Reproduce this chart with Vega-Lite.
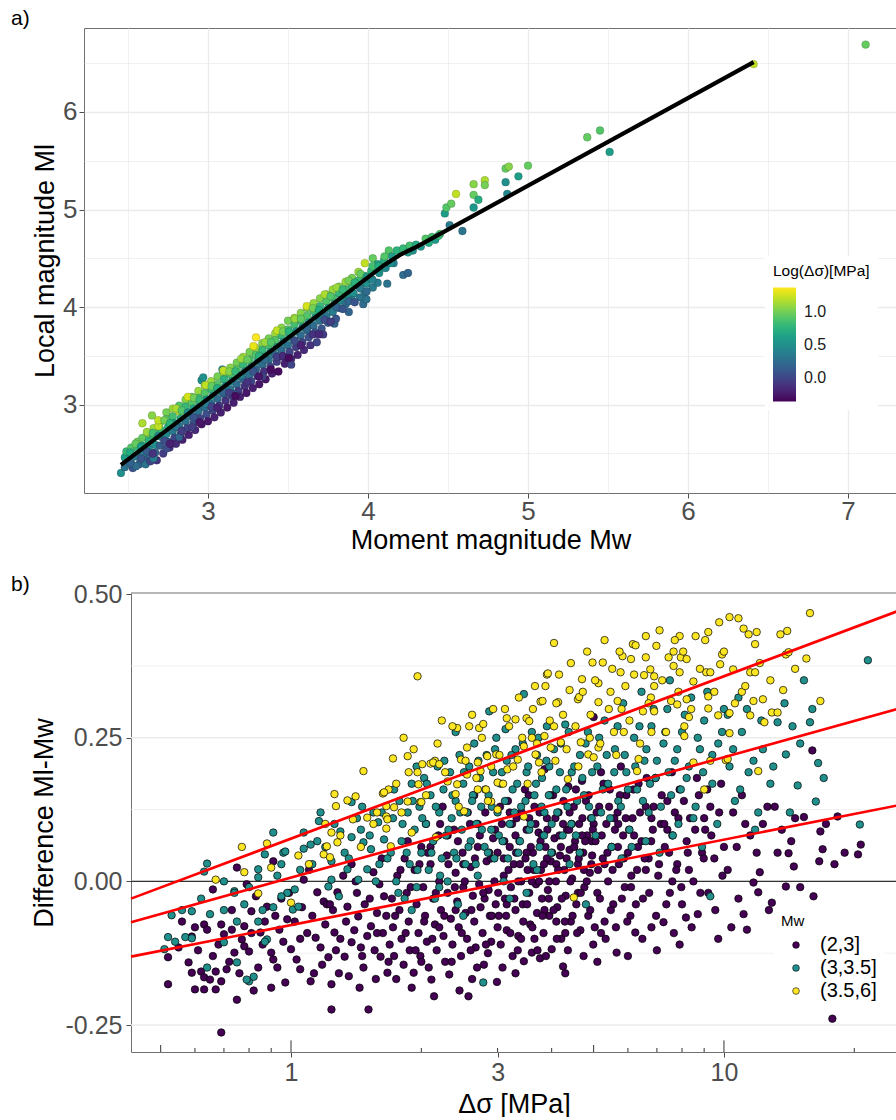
{
"$schema":"https://vega.github.io/schema/vega-lite/v6.json",
"padding":{"left":10,"top":7,"right":0,"bottom":0},
"background":"white",
"columns":1,
"spacing":20,
"config":{
 "font":"Liberation Sans",
 "view":{"stroke":"#707070","strokeWidth":1},
 "axis":{"labelColor":"#4D4D4D","titleColor":"#000000","tickColor":"#4D4D4D","domain":false,"labelFlush":false,"labelOverlap":false,"titleFontWeight":"normal","tickSize":5,"gridColor":"#EBEBEB"},
 "title":{"fontWeight":"normal","color":"#000000","fontSize":21}
},
"datasets":{
"a":[
{"mw":2.456,"ml":2.30,"c":0.5},
{"mw":2.48,"ml":2.46,"c":0.6},{"mw":2.48,"ml":2.36,"c":0.3},{"mw":2.49,"ml":2.52,"c":0.8},
{"mw":2.52,"ml":2.56,"c":0.9},{"mw":2.52,"ml":2.49,"c":0.6},{"mw":2.52,"ml":2.40,"c":0.3},{"mw":2.53,"ml":2.35,"c":0.1},
{"mw":2.56,"ml":2.62,"c":1.0},{"mw":2.56,"ml":2.55,"c":0.8},{"mw":2.56,"ml":2.47,"c":0.45},{"mw":2.57,"ml":2.39,"c":0.2},{"mw":2.55,"ml":2.37,"c":0.25},
{"mw":2.59,"ml":2.81,"c":1.15},{"mw":2.59,"ml":2.66,"c":0.95},{"mw":2.59,"ml":2.58,"c":0.7},{"mw":2.6,"ml":2.50,"c":0.4},{"mw":2.6,"ml":2.43,"c":0.15},{"mw":2.61,"ml":2.39,"c":0.3},
{"mw":2.63,"ml":2.70,"c":1.0},{"mw":2.63,"ml":2.63,"c":0.75},{"mw":2.63,"ml":2.55,"c":0.45},{"mw":2.64,"ml":2.47,"c":0.2},{"mw":2.64,"ml":2.42,"c":0.0},
{"mw":2.65,"ml":2.89,"c":1.05},{"mw":2.66,"ml":2.76,"c":1.1},{"mw":2.66,"ml":2.68,"c":0.8},{"mw":2.67,"ml":2.59,"c":0.5},{"mw":2.67,"ml":2.51,"c":0.2},{"mw":2.68,"ml":2.43,"c":-0.1},{"mw":2.66,"ml":2.45,"c":0.35},
{"mw":2.70,"ml":2.82,"c":0.95},{"mw":2.70,"ml":2.75,"c":0.8},{"mw":2.71,"ml":2.67,"c":0.55},{"mw":2.70,"ml":2.58,"c":0.15},{"mw":2.72,"ml":2.50,"c":-0.05},{"mw":2.69,"ml":2.78,"c":1.2},
{"mw":2.74,"ml":2.92,"c":1.0},{"mw":2.74,"ml":2.85,"c":0.9},{"mw":2.75,"ml":2.77,"c":0.7},{"mw":2.74,"ml":2.70,"c":0.45},{"mw":2.75,"ml":2.62,"c":0.1},{"mw":2.76,"ml":2.56,"c":-0.1},{"mw":2.74,"ml":2.55,"c":0.05},
{"mw":2.78,"ml":2.96,"c":1.1},{"mw":2.78,"ml":2.88,"c":0.85},{"mw":2.79,"ml":2.81,"c":0.6},{"mw":2.78,"ml":2.73,"c":0.35},{"mw":2.79,"ml":2.66,"c":0.0},{"mw":2.8,"ml":2.60,"c":-0.15},
{"mw":2.82,"ml":2.99,"c":0.9},{"mw":2.82,"ml":2.93,"c":1.15},{"mw":2.83,"ml":2.86,"c":0.7},{"mw":2.82,"ml":2.78,"c":0.3},{"mw":2.83,"ml":2.70,"c":0.05},{"mw":2.84,"ml":2.64,"c":-0.2},{"mw":2.82,"ml":2.67,"c":0.2},
{"mw":2.86,"ml":3.05,"c":1.05},{"mw":2.86,"ml":2.98,"c":0.8},{"mw":2.87,"ml":2.91,"c":0.6},{"mw":2.86,"ml":2.83,"c":0.3},{"mw":2.87,"ml":2.76,"c":0.0},{"mw":2.88,"ml":2.69,"c":-0.2},
{"mw":2.90,"ml":3.08,"c":1.0},{"mw":2.90,"ml":3.02,"c":0.9},{"mw":2.91,"ml":2.96,"c":0.65},{"mw":2.9,"ml":2.88,"c":0.35},{"mw":2.91,"ml":2.81,"c":0.1},{"mw":2.92,"ml":2.74,"c":-0.15},{"mw":2.9,"ml":2.77,"c":-0.05},
{"mw":2.94,"ml":3.14,"c":1.1},{"mw":2.94,"ml":3.07,"c":0.85},{"mw":2.95,"ml":3.0,"c":0.6},{"mw":2.94,"ml":2.93,"c":0.3},{"mw":2.95,"ml":2.86,"c":0.0},{"mw":2.96,"ml":2.80,"c":-0.25},{"mw":2.96,"ml":3.25,"c":0.5},
{"mw":2.98,"ml":3.2,"c":1.05},{"mw":2.98,"ml":3.12,"c":0.9},{"mw":2.99,"ml":3.05,"c":0.55},{"mw":2.98,"ml":2.97,"c":0.25},{"mw":2.99,"ml":2.9,"c":0.05},{"mw":3.0,"ml":2.83,"c":-0.25},{"mw":2.97,"ml":3.28,"c":0.5},
{"mw":3.02,"ml":3.24,"c":1.1},{"mw":3.02,"ml":3.16,"c":0.8},{"mw":3.03,"ml":3.09,"c":0.6},{"mw":3.02,"ml":3.01,"c":0.3},{"mw":3.03,"ml":2.94,"c":0.0},{"mw":3.04,"ml":2.87,"c":-0.2},{"mw":3.02,"ml":2.98,"c":0.1},
{"mw":3.06,"ml":3.29,"c":1.0},{"mw":3.06,"ml":3.21,"c":0.9},{"mw":3.07,"ml":3.14,"c":0.55},{"mw":3.06,"ml":3.06,"c":0.25},{"mw":3.07,"ml":2.99,"c":-0.05},{"mw":3.08,"ml":2.92,"c":-0.2},
{"mw":3.10,"ml":3.33,"c":1.1},{"mw":3.10,"ml":3.26,"c":0.75},{"mw":3.11,"ml":3.19,"c":0.5},{"mw":3.1,"ml":3.11,"c":0.2},{"mw":3.11,"ml":3.04,"c":-0.1},{"mw":3.12,"ml":2.97,"c":-0.25},{"mw":3.09,"ml":3.36,"c":0.45},
{"mw":3.14,"ml":3.38,"c":1.05},{"mw":3.14,"ml":3.31,"c":0.85},{"mw":3.15,"ml":3.24,"c":0.6},{"mw":3.14,"ml":3.16,"c":0.3},{"mw":3.15,"ml":3.09,"c":0.0},{"mw":3.16,"ml":3.02,"c":-0.2},
{"mw":3.18,"ml":3.43,"c":1.0},{"mw":3.18,"ml":3.36,"c":0.9},{"mw":3.19,"ml":3.29,"c":0.55},{"mw":3.18,"ml":3.21,"c":0.25},{"mw":3.19,"ml":3.14,"c":-0.05},{"mw":3.2,"ml":3.08,"c":-0.2},{"mw":3.17,"ml":3.11,"c":0.05},
{"mw":3.22,"ml":3.49,"c":1.1},{"mw":3.22,"ml":3.41,"c":0.8},{"mw":3.23,"ml":3.34,"c":0.5},{"mw":3.22,"ml":3.26,"c":0.2},{"mw":3.23,"ml":3.19,"c":-0.1},{"mw":3.24,"ml":3.12,"c":-0.25},
{"mw":3.26,"ml":3.54,"c":1.0},{"mw":3.26,"ml":3.46,"c":0.85},{"mw":3.27,"ml":3.39,"c":0.6},{"mw":3.26,"ml":3.31,"c":0.3},{"mw":3.27,"ml":3.24,"c":0.0},{"mw":3.28,"ml":3.17,"c":-0.2},
{"mw":3.30,"ml":3.69,"c":1.35},{"mw":3.30,"ml":3.58,"c":1.1},{"mw":3.30,"ml":3.51,"c":0.9},{"mw":3.31,"ml":3.44,"c":0.55},{"mw":3.3,"ml":3.36,"c":0.2},{"mw":3.31,"ml":3.29,"c":-0.05},{"mw":3.32,"ml":3.21,"c":-0.25},
{"mw":3.34,"ml":3.63,"c":1.05},{"mw":3.34,"ml":3.56,"c":0.8},{"mw":3.35,"ml":3.49,"c":0.5},{"mw":3.34,"ml":3.41,"c":0.25},{"mw":3.35,"ml":3.34,"c":-0.1},{"mw":3.36,"ml":3.26,"c":-0.25},{"mw":3.34,"ml":3.29,"c":0.0},
{"mw":3.38,"ml":3.68,"c":1.0},{"mw":3.38,"ml":3.61,"c":0.85},{"mw":3.39,"ml":3.54,"c":0.6},{"mw":3.38,"ml":3.46,"c":0.3},{"mw":3.39,"ml":3.39,"c":0.0},{"mw":3.4,"ml":3.32,"c":-0.2},
{"mw":3.42,"ml":3.73,"c":1.1},{"mw":3.42,"ml":3.66,"c":0.9},{"mw":3.43,"ml":3.59,"c":0.55},{"mw":3.42,"ml":3.51,"c":0.2},{"mw":3.43,"ml":3.44,"c":-0.05},{"mw":3.44,"ml":3.34,"c":-0.3},
{"mw":3.46,"ml":3.79,"c":1.05},{"mw":3.46,"ml":3.71,"c":0.8},{"mw":3.47,"ml":3.64,"c":0.5},{"mw":3.46,"ml":3.56,"c":0.25},{"mw":3.47,"ml":3.49,"c":-0.1},{"mw":3.48,"ml":3.42,"c":-0.2},
{"mw":3.50,"ml":3.86,"c":1.0},{"mw":3.50,"ml":3.77,"c":0.9},{"mw":3.51,"ml":3.69,"c":0.6},{"mw":3.5,"ml":3.61,"c":0.3},{"mw":3.51,"ml":3.54,"c":0.0},{"mw":3.52,"ml":3.47,"c":-0.15},{"mw":3.52,"ml":3.41,"c":0.0},
{"mw":3.54,"ml":3.89,"c":1.1},{"mw":3.54,"ml":3.82,"c":0.85},{"mw":3.55,"ml":3.75,"c":0.55},{"mw":3.54,"ml":3.66,"c":0.2},{"mw":3.55,"ml":3.59,"c":-0.05},{"mw":3.56,"ml":3.51,"c":-0.2},
{"mw":3.58,"ml":3.94,"c":1.05},{"mw":3.58,"ml":3.86,"c":0.8},{"mw":3.59,"ml":3.79,"c":0.5},{"mw":3.58,"ml":3.71,"c":0.25},{"mw":3.59,"ml":3.64,"c":0.0},{"mw":3.6,"ml":3.56,"c":-0.15},
{"mw":3.62,"ml":3.99,"c":1.0},{"mw":3.62,"ml":3.91,"c":0.9},{"mw":3.63,"ml":3.84,"c":0.6},{"mw":3.62,"ml":3.76,"c":0.3},{"mw":3.63,"ml":3.69,"c":0.05},{"mw":3.64,"ml":3.61,"c":-0.1},
{"mw":3.66,"ml":4.04,"c":1.1},{"mw":3.66,"ml":3.96,"c":0.85},{"mw":3.67,"ml":3.89,"c":0.55},{"mw":3.66,"ml":3.81,"c":0.25},{"mw":3.67,"ml":3.74,"c":0.1},{"mw":3.68,"ml":3.64,"c":0.0},
{"mw":3.70,"ml":4.09,"c":1.05},{"mw":3.70,"ml":4.01,"c":0.8},{"mw":3.71,"ml":3.94,"c":0.5},{"mw":3.7,"ml":3.86,"c":0.3},{"mw":3.71,"ml":3.78,"c":0.1},{"mw":3.72,"ml":3.72,"c":-0.05},
{"mw":3.74,"ml":4.13,"c":1.0},{"mw":3.74,"ml":4.06,"c":0.9},{"mw":3.75,"ml":3.99,"c":0.55},{"mw":3.74,"ml":3.91,"c":0.3},{"mw":3.75,"ml":3.84,"c":0.15},
{"mw":3.78,"ml":4.18,"c":1.1},{"mw":3.78,"ml":4.1,"c":0.85},{"mw":3.79,"ml":4.03,"c":0.6},{"mw":3.78,"ml":3.95,"c":0.35},{"mw":3.79,"ml":3.83,"c":0.2},{"mw":3.8,"ml":3.88,"c":0.1},
{"mw":3.82,"ml":4.21,"c":1.05},{"mw":3.82,"ml":4.14,"c":0.8},{"mw":3.83,"ml":4.07,"c":0.5},{"mw":3.82,"ml":3.99,"c":0.3},
{"mw":3.86,"ml":4.26,"c":1.1},{"mw":3.86,"ml":4.18,"c":0.85},{"mw":3.87,"ml":4.11,"c":0.55},{"mw":3.86,"ml":4.03,"c":0.3},{"mw":3.88,"ml":3.95,"c":0.2},
{"mw":3.90,"ml":4.3,"c":1.0},{"mw":3.9,"ml":4.22,"c":0.8},{"mw":3.91,"ml":4.14,"c":0.5},{"mw":3.9,"ml":4.07,"c":0.35},
{"mw":3.94,"ml":4.36,"c":1.1},{"mw":3.94,"ml":4.27,"c":0.8},{"mw":3.95,"ml":4.2,"c":0.55},{"mw":3.95,"ml":4.1,"c":0.3},{"mw":3.97,"ml":4.03,"c":0.25},
{"mw":3.98,"ml":4.45,"c":1.2},{"mw":3.98,"ml":4.32,"c":0.8},{"mw":3.99,"ml":4.24,"c":0.5},{"mw":3.98,"ml":4.15,"c":0.35},{"mw":3.99,"ml":4.08,"c":0.3},
{"mw":4.03,"ml":4.50,"c":0.95},{"mw":4.02,"ml":4.37,"c":0.75},{"mw":4.02,"ml":4.29,"c":0.5},{"mw":4.03,"ml":4.2,"c":0.35},
{"mw":4.06,"ml":4.44,"c":0.65},{"mw":4.07,"ml":4.35,"c":0.5},{"mw":4.06,"ml":4.25,"c":0.35},{"mw":4.08,"ml":4.40,"c":0.6},
{"mw":4.1,"ml":4.48,"c":0.7},{"mw":4.11,"ml":4.4,"c":0.45},{"mw":4.13,"ml":4.58,"c":0.9},{"mw":4.12,"ml":4.24,"c":0.3},
{"mw":4.15,"ml":4.52,"c":0.6},{"mw":4.16,"ml":4.45,"c":0.4},{"mw":4.22,"ml":4.33,"c":0.25},{"mw":4.25,"ml":4.35,"c":0.2},{"mw":4.18,"ml":4.58,"c":0.75},
{"mw":4.22,"ml":4.6,"c":0.8},{"mw":4.26,"ml":4.63,"c":0.85},{"mw":4.3,"ml":4.64,"c":0.7},{"mw":4.33,"ml":4.62,"c":0.55},{"mw":4.28,"ml":4.58,"c":0.5},{"mw":4.36,"ml":4.70,"c":0.9},{"mw":4.4,"ml":4.72,"c":0.85},{"mw":4.42,"ml":4.69,"c":0.6},{"mw":4.45,"ml":4.75,"c":0.9},{"mw":4.38,"ml":4.66,"c":0.7},{"mw":4.44,"ml":4.73,"c":0.8},{"mw":4.25,"ml":4.56,"c":0.6},
{"mw":4.48,"ml":4.96,"c":0.6},{"mw":4.49,"ml":5.02,"c":0.9},{"mw":4.52,"ml":5.06,"c":0.95},{"mw":4.51,"ml":4.84,"c":0.35},{"mw":4.59,"ml":4.78,"c":0.3},{"mw":4.55,"ml":5.16,"c":1.2},{"mw":4.66,"ml":5.26,"c":1.05},{"mw":4.66,"ml":5.15,"c":0.95},{"mw":4.66,"ml":5.02,"c":0.55},{"mw":4.69,"ml":5.10,"c":0.7},{"mw":4.73,"ml":5.30,"c":1.15},{"mw":4.73,"ml":5.25,"c":1.0},{"mw":4.86,"ml":5.42,"c":0.95},{"mw":4.88,"ml":5.44,"c":1.05},{"mw":4.86,"ml":5.28,"c":0.5},{"mw":4.87,"ml":5.16,"c":0.45},{"mw":4.94,"ml":5.34,"c":0.6},{"mw":5.0,"ml":5.45,"c":0.95},{"mw":5.37,"ml":5.74,"c":0.95},{"mw":5.45,"ml":5.81,"c":0.9},{"mw":5.51,"ml":5.59,"c":0.6},{"mw":6.41,"ml":6.49,"c":1.2},{"mw":7.11,"ml":6.69,"c":0.95},
{"mw":2.513,"ml":2.51,"c":0.7},{"mw":2.513,"ml":2.40,"c":0.2},{"mw":2.547,"ml":2.60,"c":0.95},{"mw":2.547,"ml":2.47,"c":0.35},{"mw":2.581,"ml":2.57,"c":0.6},{"mw":2.581,"ml":2.45,"c":0.1},{"mw":2.618,"ml":2.72,"c":1.1},{"mw":2.618,"ml":2.52,"c":0.15},{"mw":2.655,"ml":2.71,"c":0.85},{"mw":2.655,"ml":2.50,"c":-0.1},{"mw":2.689,"ml":2.84,"c":1.2},{"mw":2.689,"ml":2.68,"c":0.45},{"mw":2.727,"ml":2.84,"c":1.0},{"mw":2.727,"ml":2.63,"c":0.05},{"mw":2.763,"ml":2.81,"c":0.75},{"mw":2.763,"ml":2.60,"c":-0.2},{"mw":2.801,"ml":2.96,"c":1.15},{"mw":2.801,"ml":2.77,"c":0.3},{"mw":2.836,"ml":2.94,"c":0.9},{"mw":2.836,"ml":2.73,"c":-0.05},{"mw":2.874,"ml":3.08,"c":1.25},{"mw":2.874,"ml":2.92,"c":0.5},{"mw":2.912,"ml":3.07,"c":1.0},{"mw":2.912,"ml":2.87,"c":0.1},{"mw":2.947,"ml":3.05,"c":0.8},{"mw":2.947,"ml":2.82,"c":-0.25},{"mw":2.985,"ml":3.20,"c":1.2},{"mw":2.985,"ml":3.01,"c":0.35},{"mw":3.023,"ml":3.19,"c":0.95},{"mw":3.023,"ml":2.98,"c":0.0},{"mw":3.058,"ml":3.17,"c":0.7},{"mw":3.058,"ml":2.97,"c":-0.2},{"mw":3.096,"ml":3.35,"c":1.2},{"mw":3.096,"ml":3.13,"c":0.2},{"mw":3.133,"ml":3.34,"c":1.05},{"mw":3.133,"ml":3.12,"c":-0.05},{"mw":3.171,"ml":3.34,"c":0.8},{"mw":3.171,"ml":3.09,"c":-0.3},{"mw":3.207,"ml":3.47,"c":1.1},{"mw":3.207,"ml":3.30,"c":0.4},{"mw":3.246,"ml":3.46,"c":0.95},{"mw":3.246,"ml":3.23,"c":-0.1},{"mw":3.284,"ml":3.60,"c":1.3},{"mw":3.284,"ml":3.34,"c":0.1},{"mw":3.319,"ml":3.50,"c":0.75},{"mw":3.319,"ml":3.29,"c":-0.25},{"mw":3.357,"ml":3.64,"c":1.1},{"mw":3.357,"ml":3.46,"c":0.25},{"mw":3.393,"ml":3.64,"c":0.9},{"mw":3.393,"ml":3.36,"c":-0.3},{"mw":3.431,"ml":3.76,"c":1.2},{"mw":3.431,"ml":3.49,"c":-0.05},{"mw":3.468,"ml":3.75,"c":1.0},{"mw":3.468,"ml":3.50,"c":-0.15},{"mw":3.505,"ml":3.75,"c":0.75},{"mw":3.505,"ml":3.48,"c":-0.3},{"mw":3.543,"ml":3.88,"c":1.1},{"mw":3.543,"ml":3.65,"c":0.05},{"mw":3.581,"ml":3.88,"c":0.95},{"mw":3.581,"ml":3.61,"c":-0.2},{"mw":3.617,"ml":4.01,"c":1.25},{"mw":3.617,"ml":3.78,"c":0.2},{"mw":3.655,"ml":3.99,"c":1.0},{"mw":3.655,"ml":3.72,"c":-0.1},{"mw":3.693,"ml":3.97,"c":0.7},{"mw":3.693,"ml":3.72,"c":-0.15},{"mw":3.729,"ml":4.13,"c":1.15},{"mw":3.729,"ml":3.87,"c":0.05},{"mw":3.766,"ml":4.11,"c":0.9},{"mw":3.766,"ml":3.85,"c":-0.05},{"mw":3.804,"ml":4.20,"c":1.1},{"mw":3.804,"ml":4.0,"c":0.2},{"mw":3.842,"ml":4.18,"c":0.8},{"mw":3.842,"ml":3.98,"c":0.1},{"mw":3.879,"ml":4.27,"c":1.0},{"mw":3.879,"ml":4.06,"c":0.2},{"mw":3.917,"ml":4.25,"c":0.75},{"mw":3.917,"ml":4.05,"c":0.1},{"mw":3.953,"ml":4.34,"c":0.95},{"mw":3.953,"ml":4.19,"c":0.35},{"mw":3.991,"ml":4.31,"c":0.6},{"mw":3.991,"ml":4.16,"c":0.25},{"mw":4.028,"ml":4.42,"c":0.85},{"mw":4.028,"ml":4.28,"c":0.4},{"mw":4.066,"ml":4.42,"c":0.7},{"mw":4.103,"ml":4.52,"c":0.9},{"mw":4.141,"ml":4.45,"c":0.5}
],
"lineA":[{"mw":2.456,"ml":2.383},{"mw":4.1,"ml":4.43},{"mw":4.2,"ml":4.535},{"mw":4.3,"ml":4.615},{"mw":6.41,"ml":6.51}],
"b":[
{"s":0.52,"d":-0.179,"g":"(2,3]"},{"s":0.52,"d":-0.132,"g":"(2,3]"},{"s":0.56,"d":-0.07,"g":"(2,3]"},{"s":0.58,"d":-0.141,"g":"(2,3]"},{"s":0.59,"d":-0.159,"g":"(2,3]"},{"s":0.60,"d":-0.188,"g":"(2,3]"},{"s":0.59,"d":-0.096,"g":"(2,3]"},{"s":0.55,"d":-0.115,"g":"(2,3]"},
{"s":0.62,"d":-0.157,"g":"(2,3]"},{"s":0.63,"d":-0.167,"g":"(2,3]"},{"s":0.63,"d":-0.188,"g":"(2,3]"},{"s":0.65,"d":-0.171,"g":"(2,3]"},{"s":0.67,"d":-0.188,"g":"(2,3]"},{"s":0.67,"d":-0.157,"g":"(2,3]"},{"s":0.69,"d":-0.174,"g":"(2,3]"},{"s":0.71,"d":-0.153,"g":"(2,3]"},{"s":0.69,"d":-0.263,"g":"(2,3]"},{"s":0.63,"d":-0.075,"g":"(2,3]"},{"s":0.64,"d":-0.084,"g":"(2,3]"},{"s":0.66,"d":-0.014,"g":"(2,3]"},{"s":0.69,"d":-0.075,"g":"(2,3]"},{"s":0.70,"d":-0.092,"g":"(2,3]"},{"s":0.61,"d":-0.12,"g":"(2,3]"},{"s":0.68,"d":-0.11,"g":"(2,3]"},
{"s":0.73,"d":-0.084,"g":"(2,3]"},{"s":0.74,"d":-0.124,"g":"(2,3]"},{"s":0.75,"d":-0.206,"g":"(2,3]"},{"s":0.75,"d":0.024,"g":"(2,3]"},{"s":0.77,"d":-0.101,"g":"(2,3]"},{"s":0.78,"d":-0.078,"g":"(2,3]"},{"s":0.78,"d":-0.113,"g":"(2,3]"},{"s":0.79,"d":-0.005,"g":"(2,3]"},{"s":0.80,"d":-0.122,"g":"(2,3]"},{"s":0.81,"d":-0.052,"g":"(2,3]"},{"s":0.83,"d":-0.026,"g":"(2,3]"},{"s":0.85,"d":-0.089,"g":"(2,3]"},{"s":0.88,"d":-0.044,"g":"(2,3]"},{"s":0.90,"d":-0.124,"g":"(2,3]"},{"s":0.91,"d":0.035,"g":"(2,3]"},{"s":0.90,"d":-0.185,"g":"(2,3]"},{"s":0.91,"d":-0.136,"g":"(2,3]"},{"s":0.93,"d":-0.150,"g":"(2,3]"},{"s":0.94,"d":-0.084,"g":"(2,3]"},{"s":0.97,"d":-0.176,"g":"(2,3]"},{"s":0.98,"d":-0.066,"g":"(2,3]"},{"s":0.72,"d":-0.14,"g":"(2,3]"},{"s":0.76,"d":-0.16,"g":"(2,3]"},{"s":0.84,"d":-0.15,"g":"(2,3]"},{"s":0.86,"d":-0.11,"g":"(2,3]"},{"s":0.95,"d":-0.03,"g":"(2,3]"},{"s":0.96,"d":-0.105,"g":"(2,3]"},{"s":0.82,"d":-0.19,"g":"(2,3]"},{"s":0.87,"d":-0.07,"g":"(2,3]"},{"s":0.99,"d":-0.02,"g":"(2,3]"},
{"s":1.0,"d":-0.118,"g":"(2,3]"},{"s":1.03,"d":-0.136,"g":"(2,3]"},{"s":1.05,"d":-0.153,"g":"(2,3]"},{"s":1.07,"d":0.003,"g":"(2,3]"},{"s":1.11,"d":-0.174,"g":"(2,3]"},{"s":1.14,"d":-0.098,"g":"(2,3]"},{"s":1.15,"d":-0.019,"g":"(2,3]"},{"s":1.22,"d":-0.132,"g":"(2,3]"},{"s":1.24,"d":-0.179,"g":"(2,3]"},{"s":1.24,"d":-0.223,"g":"(2,3]"},{"s":1.26,"d":-0.089,"g":"(2,3]"},{"s":1.28,"d":-0.019,"g":"(2,3]"},{"s":1.33,"d":-0.131,"g":"(2,3]"},{"s":1.35,"d":-0.044,"g":"(2,3]"},{"s":1.38,"d":-0.106,"g":"(2,3]"},{"s":1.43,"d":-0.061,"g":"(2,3]"},{"s":1.47,"d":-0.150,"g":"(2,3]"},{"s":1.51,"d":-0.223,"g":"(2,3]"},{"s":1.53,"d":-0.078,"g":"(2,3]"},{"s":1.55,"d":0.016,"g":"(2,3]"},{"s":1.61,"d":-0.131,"g":"(2,3]"},{"s":1.67,"d":-0.159,"g":"(2,3]"},{"s":1.64,"d":-0.026,"g":"(2,3]"},{"s":1.02,"d":-0.07,"g":"(2,3]"},{"s":1.06,"d":-0.045,"g":"(2,3]"},{"s":1.09,"d":-0.09,"g":"(2,3]"},{"s":1.12,"d":-0.06,"g":"(2,3]"},{"s":1.17,"d":-0.115,"g":"(2,3]"},{"s":1.19,"d":-0.035,"g":"(2,3]"},{"s":1.2,"d":-0.075,"g":"(2,3]"},{"s":1.25,"d":-0.05,"g":"(2,3]"},{"s":1.3,"d":-0.1,"g":"(2,3]"},{"s":1.32,"d":0.01,"g":"(2,3]"},{"s":1.36,"d":-0.165,"g":"(2,3]"},{"s":1.4,"d":-0.085,"g":"(2,3]"},{"s":1.42,"d":-0.02,"g":"(2,3]"},{"s":1.45,"d":-0.115,"g":"(2,3]"},{"s":1.48,"d":-0.04,"g":"(2,3]"},{"s":1.5,"d":-0.095,"g":"(2,3]"},{"s":1.56,"d":-0.12,"g":"(2,3]"},{"s":1.58,"d":-0.055,"g":"(2,3]"},{"s":1.6,"d":-0.005,"g":"(2,3]"},{"s":1.63,"d":-0.09,"g":"(2,3]"},{"s":1.66,"d":-0.06,"g":"(2,3]"},{"s":1.69,"d":-0.11,"g":"(2,3]"},{"s":1.18,"d":-0.145,"g":"(2,3]"},{"s":1.29,"d":-0.16,"g":"(2,3]"},{"s":1.44,"d":-0.185,"g":"(2,3]"},{"s":1.57,"d":-0.17,"g":"(2,3]"},{"s":1.1,"d":0.02,"g":"(2,3]"},{"s":1.38,"d":0.03,"g":"(2,3]"},
{"s":1.71,"d":-0.03,"g":"(2,3]"},{"s":1.72,"d":-0.08,"g":"(2,3]"},{"s":1.73,"d":-0.13,"g":"(2,3]"},{"s":1.75,"d":-0.17,"g":"(2,3]"},{"s":1.76,"d":0.01,"g":"(2,3]"},{"s":1.78,"d":-0.05,"g":"(2,3]"},{"s":1.8,"d":-0.1,"g":"(2,3]"},{"s":1.82,"d":-0.145,"g":"(2,3]"},{"s":1.83,"d":0.04,"g":"(2,3]"},{"s":1.85,"d":-0.02,"g":"(2,3]"},{"s":1.87,"d":-0.07,"g":"(2,3]"},{"s":1.88,"d":-0.12,"g":"(2,3]"},{"s":1.9,"d":-0.185,"g":"(2,3]"},{"s":1.92,"d":-0.159,"g":"(2,3]"},{"s":1.93,"d":0.02,"g":"(2,3]"},{"s":1.95,"d":-0.04,"g":"(2,3]"},{"s":1.97,"d":-0.09,"g":"(2,3]"},{"s":1.99,"d":-0.13,"g":"(2,3]"},{"s":2.0,"d":0.06,"g":"(2,3]"},{"s":2.02,"d":-0.01,"g":"(2,3]"},{"s":2.04,"d":-0.06,"g":"(2,3]"},{"s":2.06,"d":-0.105,"g":"(2,3]"},{"s":2.08,"d":-0.15,"g":"(2,3]"},{"s":2.11,"d":-0.171,"g":"(2,3]"},{"s":2.1,"d":0.03,"g":"(2,3]"},{"s":2.13,"d":-0.03,"g":"(2,3]"},{"s":2.15,"d":-0.075,"g":"(2,3]"},{"s":2.17,"d":-0.12,"g":"(2,3]"},{"s":2.19,"d":0.08,"g":"(2,3]"},{"s":2.2,"d":0.0,"g":"(2,3]"},{"s":2.22,"d":-0.05,"g":"(2,3]"},{"s":2.25,"d":-0.095,"g":"(2,3]"},{"s":2.27,"d":-0.14,"g":"(2,3]"},{"s":2.29,"d":0.045,"g":"(2,3]"},{"s":2.32,"d":-0.162,"g":"(2,3]"},{"s":2.3,"d":-0.02,"g":"(2,3]"},{"s":2.34,"d":-0.065,"g":"(2,3]"},{"s":2.36,"d":-0.11,"g":"(2,3]"},{"s":2.38,"d":0.09,"g":"(2,3]"},{"s":2.4,"d":0.015,"g":"(2,3]"},{"s":2.42,"d":-0.035,"g":"(2,3]"},{"s":2.44,"d":-0.08,"g":"(2,3]"},{"s":2.47,"d":-0.13,"g":"(2,3]"},{"s":2.49,"d":0.05,"g":"(2,3]"},{"s":2.5,"d":-0.01,"g":"(2,3]"},{"s":2.53,"d":-0.055,"g":"(2,3]"},{"s":2.55,"d":-0.1,"g":"(2,3]"},{"s":2.57,"d":-0.2,"g":"(2,3]"},{"s":2.59,"d":0.1,"g":"(2,3]"},{"s":2.6,"d":0.025,"g":"(2,3]"},{"s":2.63,"d":-0.025,"g":"(2,3]"},{"s":2.65,"d":-0.07,"g":"(2,3]"},{"s":2.67,"d":-0.115,"g":"(2,3]"},{"s":2.7,"d":0.06,"g":"(2,3]"},{"s":2.72,"d":-0.005,"g":"(2,3]"},{"s":2.74,"d":-0.045,"g":"(2,3]"},{"s":2.77,"d":-0.09,"g":"(2,3]"},{"s":2.79,"d":-0.145,"g":"(2,3]"},{"s":2.81,"d":0.12,"g":"(2,3]"},{"s":2.83,"d":0.035,"g":"(2,3]"},{"s":2.86,"d":-0.015,"g":"(2,3]"},{"s":2.88,"d":-0.06,"g":"(2,3]"},{"s":2.9,"d":-0.105,"g":"(2,3]"},{"s":2.93,"d":0.075,"g":"(2,3]"},{"s":2.95,"d":0.0,"g":"(2,3]"},{"s":2.97,"d":-0.04,"g":"(2,3]"},{"s":2.99,"d":-0.175,"g":"(2,3]"},{"s":1.86,"d":0.07,"g":"(2,3]"},{"s":2.05,"d":0.1,"g":"(2,3]"},{"s":2.24,"d":0.13,"g":"(2,3]"},{"s":2.45,"d":-0.19,"g":"(2,3]"},{"s":2.65,"d":0.15,"g":"(2,3]"},{"s":2.85,"d":-0.125,"g":"(2,3]"},
{"s":3.0,"d":0.05,"g":"(2,3]"},{"s":3.02,"d":-0.06,"g":"(2,3]"},{"s":3.05,"d":-0.11,"g":"(2,3]"},{"s":3.07,"d":0.1,"g":"(2,3]"},{"s":3.1,"d":0.01,"g":"(2,3]"},{"s":3.12,"d":-0.03,"g":"(2,3]"},{"s":3.15,"d":-0.085,"g":"(2,3]"},{"s":3.17,"d":0.14,"g":"(2,3]"},{"s":3.2,"d":0.06,"g":"(2,3]"},{"s":3.22,"d":-0.01,"g":"(2,3]"},{"s":3.25,"d":-0.13,"g":"(2,3]"},{"s":3.27,"d":0.03,"g":"(2,3]"},{"s":3.3,"d":-0.05,"g":"(2,3]"},{"s":3.32,"d":0.11,"g":"(2,3]"},{"s":3.35,"d":-0.095,"g":"(2,3]"},{"s":3.37,"d":0.07,"g":"(2,3]"},{"s":3.4,"d":0.0,"g":"(2,3]"},{"s":3.43,"d":-0.04,"g":"(2,3]"},{"s":3.45,"d":-0.139,"g":"(2,3]"},{"s":3.47,"d":0.16,"g":"(2,3]"},{"s":3.5,"d":0.09,"g":"(2,3]"},{"s":3.52,"d":0.02,"g":"(2,3]"},{"s":3.55,"d":-0.02,"g":"(2,3]"},{"s":3.57,"d":-0.075,"g":"(2,3]"},{"s":3.6,"d":-0.124,"g":"(2,3]"},{"s":3.62,"d":0.05,"g":"(2,3]"},{"s":3.65,"d":0.13,"g":"(2,3]"},{"s":3.68,"d":-0.005,"g":"(2,3]"},{"s":3.7,"d":-0.055,"g":"(2,3]"},{"s":3.73,"d":0.085,"g":"(2,3]"},{"s":3.76,"d":-0.134,"g":"(2,3]"},{"s":3.78,"d":0.02,"g":"(2,3]"},{"s":3.8,"d":-0.03,"g":"(2,3]"},{"s":3.83,"d":-0.09,"g":"(2,3]"},{"s":3.85,"d":0.195,"g":"(2,3]"},{"s":3.87,"d":0.06,"g":"(2,3]"},{"s":3.9,"d":0.11,"g":"(2,3]"},{"s":3.92,"d":-0.015,"g":"(2,3]"},{"s":3.95,"d":-0.06,"g":"(2,3]"},{"s":3.98,"d":0.035,"g":"(2,3]"},{"s":4.0,"d":-0.118,"g":"(2,3]"},{"s":4.03,"d":0.15,"g":"(2,3]"},{"s":4.06,"d":0.075,"g":"(2,3]"},{"s":4.09,"d":0.0,"g":"(2,3]"},{"s":4.12,"d":-0.045,"g":"(2,3]"},{"s":4.15,"d":0.12,"g":"(2,3]"},{"s":4.18,"d":0.045,"g":"(2,3]"},{"s":4.21,"d":-0.1,"g":"(2,3]"},{"s":4.25,"d":-0.148,"g":"(2,3]"},{"s":4.28,"d":0.02,"g":"(2,3]"},{"s":4.31,"d":-0.025,"g":"(2,3]"},{"s":4.34,"d":0.09,"g":"(2,3]"},{"s":4.37,"d":0.165,"g":"(2,3]"},{"s":4.4,"d":0.055,"g":"(2,3]"},{"s":4.43,"d":-0.07,"g":"(2,3]"},{"s":4.46,"d":0.005,"g":"(2,3]"},{"s":4.5,"d":0.13,"g":"(2,3]"},{"s":4.53,"d":0.07,"g":"(2,3]"},{"s":4.56,"d":-0.04,"g":"(2,3]"},{"s":4.6,"d":0.03,"g":"(2,3]"},{"s":4.63,"d":0.1,"g":"(2,3]"},{"s":4.66,"d":-0.085,"g":"(2,3]"},{"s":4.7,"d":0.175,"g":"(2,3]"},{"s":4.73,"d":0.05,"g":"(2,3]"},{"s":4.76,"d":-0.01,"g":"(2,3]"},{"s":4.8,"d":0.14,"g":"(2,3]"},{"s":4.83,"d":0.08,"g":"(2,3]"},{"s":4.86,"d":-0.06,"g":"(2,3]"},{"s":4.9,"d":0.015,"g":"(2,3]"},{"s":4.93,"d":0.11,"g":"(2,3]"},{"s":4.96,"d":0.045,"g":"(2,3]"},{"s":4.99,"d":-0.11,"g":"(2,3]"},{"s":3.1,"d":0.04,"g":"(2,3]"},{"s":3.3,"d":0.08,"g":"(2,3]"},{"s":3.6,"d":0.0,"g":"(2,3]"},{"s":3.9,"d":0.04,"g":"(2,3]"},{"s":4.2,"d":0.06,"g":"(2,3]"},{"s":4.45,"d":0.1,"g":"(2,3]"},{"s":4.75,"d":0.02,"g":"(2,3]"},{"s":3.4,"d":-0.1,"g":"(2,3]"},{"s":3.75,"d":0.12,"g":"(2,3]"},{"s":4.1,"d":-0.07,"g":"(2,3]"},
{"s":2.1,"d":0.06,"g":"(2,3]"},{"s":2.3,"d":0.08,"g":"(2,3]"},{"s":2.5,"d":0.03,"g":"(2,3]"},{"s":2.7,"d":0.1,"g":"(2,3]"},{"s":2.9,"d":0.04,"g":"(2,3]"},{"s":3.2,"d":0.12,"g":"(2,3]"},{"s":3.5,"d":0.05,"g":"(2,3]"},{"s":3.8,"d":0.08,"g":"(2,3]"},{"s":4.1,"d":0.03,"g":"(2,3]"},{"s":4.4,"d":0.12,"g":"(2,3]"},{"s":4.7,"d":0.08,"g":"(2,3]"},{"s":5.0,"d":0.1,"g":"(2,3]"},{"s":2.2,"d":-0.08,"g":"(2,3]"},{"s":2.6,"d":-0.12,"g":"(2,3]"},{"s":3.0,"d":-0.08,"g":"(2,3]"},{"s":3.35,"d":0.0,"g":"(2,3]"},{"s":3.65,"d":-0.1,"g":"(2,3]"},{"s":3.95,"d":0.0,"g":"(2,3]"},{"s":4.3,"d":-0.09,"g":"(2,3]"},{"s":4.6,"d":-0.02,"g":"(2,3]"},{"s":2.0,"d":-0.14,"g":"(2,3]"},{"s":2.4,"d":-0.05,"g":"(2,3]"},{"s":2.8,"d":-0.03,"g":"(2,3]"},{"s":3.15,"d":-0.04,"g":"(2,3]"},{"s":3.55,"d":0.11,"g":"(2,3]"},{"s":3.85,"d":-0.05,"g":"(2,3]"},{"s":4.25,"d":0.1,"g":"(2,3]"},{"s":4.65,"d":0.05,"g":"(2,3]"},{"s":4.95,"d":0.07,"g":"(2,3]"},{"s":5.3,"d":0.03,"g":"(2,3]"},{"s":5.7,"d":0.1,"g":"(2,3]"},{"s":6.2,"d":0.08,"g":"(2,3]"},{"s":6.8,"d":0.11,"g":"(2,3]"},{"s":7.4,"d":0.09,"g":"(2,3]"},
{"s":5.0,"d":0.286,"g":"(2,3]"},{"s":5.05,"d":0.07,"g":"(2,3]"},{"s":5.1,"d":-0.02,"g":"(2,3]"},{"s":5.15,"d":0.13,"g":"(2,3]"},{"s":5.2,"d":0.19,"g":"(2,3]"},{"s":5.25,"d":0.04,"g":"(2,3]"},{"s":5.3,"d":-0.07,"g":"(2,3]"},{"s":5.35,"d":0.1,"g":"(2,3]"},{"s":5.4,"d":0.0,"g":"(2,3]"},{"s":5.45,"d":0.16,"g":"(2,3]"},{"s":5.5,"d":0.06,"g":"(2,3]"},{"s":5.55,"d":-0.04,"g":"(2,3]"},{"s":5.65,"d":-0.124,"g":"(2,3]"},{"s":5.68,"d":0.12,"g":"(2,3]"},{"s":5.72,"d":0.03,"g":"(2,3]"},{"s":5.78,"d":0.2,"g":"(2,3]"},{"s":5.85,"d":0.08,"g":"(2,3]"},{"s":5.9,"d":-0.01,"g":"(2,3]"},{"s":5.95,"d":0.15,"g":"(2,3]"},{"s":6.0,"d":0.05,"g":"(2,3]"},{"s":6.08,"d":-0.06,"g":"(2,3]"},{"s":6.15,"d":0.11,"g":"(2,3]"},{"s":6.24,"d":-0.089,"g":"(2,3]"},{"s":6.3,"d":0.02,"g":"(2,3]"},{"s":6.35,"d":0.17,"g":"(2,3]"},{"s":6.45,"d":0.07,"g":"(2,3]"},{"s":6.5,"d":-0.03,"g":"(2,3]"},{"s":6.6,"d":0.13,"g":"(2,3]"},{"s":6.7,"d":0.04,"g":"(2,3]"},{"s":6.8,"d":-0.08,"g":"(2,3]"},{"s":6.85,"d":0.09,"g":"(2,3]"},{"s":6.95,"d":0.18,"g":"(2,3]"},{"s":7.05,"d":0.01,"g":"(2,3]"},{"s":7.15,"d":0.1,"g":"(2,3]"},{"s":7.25,"d":-0.071,"g":"(2,3]"},{"s":7.3,"d":0.06,"g":"(2,3]"},{"s":7.4,"d":0.14,"g":"(2,3]"},{"s":7.5,"d":-0.02,"g":"(2,3]"},{"s":7.6,"d":0.08,"g":"(2,3]"},{"s":7.7,"d":0.12,"g":"(2,3]"},{"s":7.8,"d":0.03,"g":"(2,3]"},{"s":7.9,"d":0.16,"g":"(2,3]"},{"s":8.0,"d":-0.04,"g":"(2,3]"},{"s":8.17,"d":-0.063,"g":"(2,3]"},{"s":8.2,"d":0.07,"g":"(2,3]"},{"s":8.35,"d":0.11,"g":"(2,3]"},{"s":8.5,"d":0.0,"g":"(2,3]"},{"s":8.7,"d":-0.057,"g":"(2,3]"},{"s":8.75,"d":0.15,"g":"(2,3]"},{"s":8.9,"d":0.05,"g":"(2,3]"},{"s":9.05,"d":0.09,"g":"(2,3]"},{"s":9.2,"d":-0.02,"g":"(2,3]"},{"s":9.3,"d":0.13,"g":"(2,3]"},{"s":9.5,"d":0.04,"g":"(2,3]"},{"s":9.7,"d":-0.1,"g":"(2,3]"},{"s":9.85,"d":0.17,"g":"(2,3]"},{"s":10.0,"d":0.06,"g":"(2,3]"},{"s":5.2,"d":-0.09,"g":"(2,3]"},{"s":5.6,"d":0.09,"g":"(2,3]"},{"s":6.1,"d":-0.01,"g":"(2,3]"},{"s":6.6,"d":0.02,"g":"(2,3]"},{"s":7.0,"d":-0.12,"g":"(2,3]"},{"s":7.6,"d":0.0,"g":"(2,3]"},{"s":8.3,"d":0.02,"g":"(2,3]"},{"s":9.0,"d":0.11,"g":"(2,3]"},
{"s":10.2,"d":0.02,"g":"(2,3]"},{"s":10.5,"d":0.12,"g":"(2,3]"},{"s":10.8,"d":-0.03,"g":"(2,3]"},{"s":11.1,"d":-0.057,"g":"(2,3]"},{"s":11.3,"d":-0.084,"g":"(2,3]"},{"s":11.5,"d":0.08,"g":"(2,3]"},{"s":11.7,"d":-0.002,"g":"(2,3]"},{"s":12.0,"d":-0.019,"g":"(2,3]"},{"s":12.1,"d":0.016,"g":"(2,3]"},{"s":12.3,"d":0.1,"g":"(2,3]"},{"s":12.9,"d":-0.037,"g":"(2,3]"},{"s":13.3,"d":0.05,"g":"(2,3]"},{"s":13.9,"d":-0.009,"g":"(2,3]"},{"s":14.1,"d":0.049,"g":"(2,3]"},{"s":14.5,"d":0.026,"g":"(2,3]"},{"s":14.6,"d":0.11,"g":"(2,3]"},{"s":15.3,"d":0.112,"g":"(2,3]"},{"s":16.0,"d":0.228,"g":"(2,3]"},{"s":16.1,"d":-0.026,"g":"(2,3]"},{"s":16.6,"d":0.035,"g":"(2,3]"},{"s":16.7,"d":0.087,"g":"(2,3]"},{"s":16.9,"d":0.056,"g":"(2,3]"},{"s":17.8,"d":-0.239,"g":"(2,3]"},{"s":18.0,"d":0.03,"g":"(2,3]"},{"s":18.3,"d":0.113,"g":"(2,3]"},{"s":20.4,"d":0.047,"g":"(2,3]"},{"s":20.7,"d":0.064,"g":"(2,3]"},{"s":11.0,"d":0.15,"g":"(2,3]"},{"s":12.6,"d":0.13,"g":"(2,3]"},{"s":13.6,"d":0.09,"g":"(2,3]"},
{"s":1.21,"d":-0.04,"g":"(2,3]"},{"s":1.27,"d":-0.12,"g":"(2,3]"},{"s":1.34,"d":-0.07,"g":"(2,3]"},{"s":1.41,"d":0.0,"g":"(2,3]"},{"s":1.46,"d":-0.13,"g":"(2,3]"},{"s":1.52,"d":-0.03,"g":"(2,3]"},{"s":1.58,"d":-0.09,"g":"(2,3]"},{"s":1.62,"d":0.04,"g":"(2,3]"},{"s":1.68,"d":-0.14,"g":"(2,3]"},{"s":1.74,"d":-0.06,"g":"(2,3]"},{"s":1.79,"d":0.02,"g":"(2,3]"},{"s":1.84,"d":-0.09,"g":"(2,3]"},{"s":1.89,"d":-0.01,"g":"(2,3]"},{"s":1.94,"d":-0.12,"g":"(2,3]"},{"s":1.98,"d":0.03,"g":"(2,3]"},{"s":2.03,"d":-0.07,"g":"(2,3]"},{"s":2.07,"d":0.05,"g":"(2,3]"},{"s":2.12,"d":-0.1,"g":"(2,3]"},{"s":2.16,"d":-0.02,"g":"(2,3]"},{"s":2.21,"d":0.1,"g":"(2,3]"},{"s":2.26,"d":-0.06,"g":"(2,3]"},{"s":2.31,"d":0.03,"g":"(2,3]"},{"s":2.35,"d":-0.14,"g":"(2,3]"},{"s":2.39,"d":-0.01,"g":"(2,3]"},{"s":2.43,"d":0.07,"g":"(2,3]"},{"s":2.48,"d":-0.09,"g":"(2,3]"},{"s":2.52,"d":0.0,"g":"(2,3]"},{"s":2.56,"d":0.12,"g":"(2,3]"},{"s":2.61,"d":-0.05,"g":"(2,3]"},{"s":2.66,"d":0.04,"g":"(2,3]"},{"s":2.69,"d":-0.15,"g":"(2,3]"},{"s":2.73,"d":0.08,"g":"(2,3]"},{"s":2.78,"d":-0.02,"g":"(2,3]"},{"s":2.82,"d":-0.11,"g":"(2,3]"},{"s":2.87,"d":0.05,"g":"(2,3]"},{"s":2.91,"d":-0.06,"g":"(2,3]"},{"s":2.96,"d":0.09,"g":"(2,3]"},{"s":3.01,"d":-0.02,"g":"(2,3]"},{"s":3.04,"d":0.13,"g":"(2,3]"},{"s":3.08,"d":-0.15,"g":"(2,3]"},{"s":3.11,"d":0.07,"g":"(2,3]"},{"s":3.14,"d":-0.06,"g":"(2,3]"},{"s":3.18,"d":0.02,"g":"(2,3]"},{"s":3.21,"d":-0.09,"g":"(2,3]"},{"s":3.24,"d":0.1,"g":"(2,3]"},{"s":3.28,"d":-0.03,"g":"(2,3]"},{"s":3.31,"d":0.05,"g":"(2,3]"},{"s":3.34,"d":-0.12,"g":"(2,3]"},{"s":3.38,"d":0.03,"g":"(2,3]"},{"s":3.41,"d":0.12,"g":"(2,3]"},{"s":3.44,"d":-0.07,"g":"(2,3]"},{"s":3.48,"d":0.04,"g":"(2,3]"},{"s":3.51,"d":-0.04,"g":"(2,3]"},{"s":3.54,"d":0.15,"g":"(2,3]"},{"s":3.58,"d":0.06,"g":"(2,3]"},{"s":3.61,"d":-0.08,"g":"(2,3]"},{"s":3.64,"d":0.02,"g":"(2,3]"},{"s":3.67,"d":0.1,"g":"(2,3]"},{"s":3.71,"d":-0.12,"g":"(2,3]"},{"s":3.74,"d":0.0,"g":"(2,3]"},{"s":3.77,"d":0.07,"g":"(2,3]"},{"s":3.81,"d":-0.06,"g":"(2,3]"},{"s":3.84,"d":0.03,"g":"(2,3]"},{"s":3.88,"d":-0.13,"g":"(2,3]"},{"s":3.91,"d":0.09,"g":"(2,3]"},{"s":3.94,"d":-0.03,"g":"(2,3]"},{"s":3.97,"d":0.15,"g":"(2,3]"},{"s":4.01,"d":0.05,"g":"(2,3]"},{"s":4.04,"d":-0.05,"g":"(2,3]"},{"s":4.08,"d":0.11,"g":"(2,3]"},{"s":4.11,"d":-0.1,"g":"(2,3]"},{"s":4.14,"d":0.02,"g":"(2,3]"},{"s":4.17,"d":0.08,"g":"(2,3]"},{"s":4.22,"d":-0.03,"g":"(2,3]"},{"s":4.26,"d":0.14,"g":"(2,3]"},{"s":4.29,"d":-0.07,"g":"(2,3]"},{"s":4.33,"d":0.04,"g":"(2,3]"},{"s":4.36,"d":-0.12,"g":"(2,3]"},{"s":4.39,"d":0.09,"g":"(2,3]"},{"s":4.42,"d":0.0,"g":"(2,3]"},{"s":4.47,"d":-0.06,"g":"(2,3]"},{"s":4.51,"d":0.06,"g":"(2,3]"},{"s":4.55,"d":0.16,"g":"(2,3]"},{"s":4.58,"d":-0.09,"g":"(2,3]"},{"s":4.62,"d":0.04,"g":"(2,3]"},{"s":4.67,"d":-0.02,"g":"(2,3]"},{"s":4.71,"d":0.11,"g":"(2,3]"},{"s":4.74,"d":-0.13,"g":"(2,3]"},{"s":4.78,"d":0.07,"g":"(2,3]"},{"s":4.82,"d":0.0,"g":"(2,3]"},{"s":4.87,"d":0.15,"g":"(2,3]"},{"s":4.91,"d":-0.05,"g":"(2,3]"},{"s":4.94,"d":0.03,"g":"(2,3]"},{"s":4.98,"d":0.09,"g":"(2,3]"},{"s":5.03,"d":-0.08,"g":"(2,3]"},{"s":5.08,"d":0.12,"g":"(2,3]"},{"s":5.12,"d":0.02,"g":"(2,3]"},{"s":5.17,"d":-0.03,"g":"(2,3]"},{"s":5.22,"d":0.08,"g":"(2,3]"},{"s":5.27,"d":0.17,"g":"(2,3]"},{"s":5.33,"d":-0.1,"g":"(2,3]"},{"s":5.38,"d":0.05,"g":"(2,3]"},{"s":5.43,"d":0.13,"g":"(2,3]"},{"s":5.48,"d":-0.05,"g":"(2,3]"},{"s":5.53,"d":0.02,"g":"(2,3]"},{"s":5.58,"d":0.11,"g":"(2,3]"},{"s":5.63,"d":-0.08,"g":"(2,3]"},{"s":5.69,"d":0.06,"g":"(2,3]"},{"s":5.75,"d":0.15,"g":"(2,3]"},{"s":5.81,"d":-0.03,"g":"(2,3]"},{"s":5.87,"d":0.04,"g":"(2,3]"},{"s":5.93,"d":0.11,"g":"(2,3]"},{"s":5.98,"d":-0.07,"g":"(2,3]"},{"s":6.04,"d":0.09,"g":"(2,3]"},{"s":6.11,"d":0.01,"g":"(2,3]"},{"s":6.18,"d":0.16,"g":"(2,3]"},{"s":6.26,"d":-0.04,"g":"(2,3]"},{"s":6.33,"d":0.06,"g":"(2,3]"},{"s":6.4,"d":0.12,"g":"(2,3]"},{"s":6.48,"d":-0.1,"g":"(2,3]"},{"s":6.56,"d":0.04,"g":"(2,3]"},{"s":6.63,"d":0.18,"g":"(2,3]"},{"s":6.72,"d":-0.02,"g":"(2,3]"},{"s":6.79,"d":0.07,"g":"(2,3]"},{"s":6.88,"d":0.13,"g":"(2,3]"},{"s":6.97,"d":-0.06,"g":"(2,3]"},{"s":7.08,"d":0.03,"g":"(2,3]"},{"s":7.18,"d":0.15,"g":"(2,3]"},{"s":7.28,"d":0.1,"g":"(2,3]"},{"s":7.36,"d":-0.04,"g":"(2,3]"},{"s":7.47,"d":0.05,"g":"(2,3]"},{"s":7.58,"d":0.19,"g":"(2,3]"},{"s":7.66,"d":-0.09,"g":"(2,3]"},{"s":7.76,"d":0.02,"g":"(2,3]"},{"s":7.85,"d":0.11,"g":"(2,3]"},{"s":7.97,"d":-0.01,"g":"(2,3]"},{"s":8.08,"d":0.14,"g":"(2,3]"},{"s":8.25,"d":0.05,"g":"(2,3]"},{"s":8.42,"d":-0.08,"g":"(2,3]"},{"s":8.58,"d":0.09,"g":"(2,3]"},{"s":8.66,"d":0.18,"g":"(2,3]"},{"s":8.82,"d":-0.02,"g":"(2,3]"},{"s":8.98,"d":0.04,"g":"(2,3]"},{"s":9.15,"d":0.16,"g":"(2,3]"},{"s":9.35,"d":0.08,"g":"(2,3]"},{"s":9.55,"d":-0.05,"g":"(2,3]"},{"s":9.75,"d":0.12,"g":"(2,3]"},{"s":9.92,"d":0.01,"g":"(2,3]"},{"s":10.4,"d":-0.08,"g":"(2,3]"},{"s":10.7,"d":0.06,"g":"(2,3]"},{"s":11.2,"d":0.1,"g":"(2,3]"},{"s":11.9,"d":0.05,"g":"(2,3]"},{"s":12.7,"d":-0.05,"g":"(2,3]"},{"s":13.1,"d":0.13,"g":"(2,3]"},{"s":14.3,"d":0.07,"g":"(2,3]"},{"s":15.0,"d":-0.01,"g":"(2,3]"},{"s":17.2,"d":0.1,"g":"(2,3]"},{"s":19.0,"d":0.05,"g":"(2,3]"},{"s":1.05,"d":-0.1,"g":"(2,3]"},{"s":1.13,"d":-0.16,"g":"(2,3]"},{"s":1.23,"d":-0.04,"g":"(2,3]"},{"s":0.92,"d":-0.06,"g":"(2,3]"},{"s":0.81,"d":-0.09,"g":"(2,3]"},{"s":0.73,"d":-0.05,"g":"(2,3]"},{"s":0.66,"d":-0.13,"g":"(2,3]"},{"s":0.6,"d":-0.08,"g":"(2,3]"},{"s":2.14,"d":-0.2,"g":"(2,3]"},{"s":2.62,"d":-0.17,"g":"(2,3]"},{"s":3.3,"d":-0.16,"g":"(2,3]"},{"s":4.3,"d":-0.16,"g":"(2,3]"},{"s":5.1,"d":-0.14,"g":"(2,3]"},{"s":6.0,"d":-0.13,"g":"(2,3]"},{"s":7.9,"d":-0.11,"g":"(2,3]"},
{"s":0.64,"d":0.031,"g":"(3,3.5]"},{"s":0.63,"d":0.017,"g":"(3,3.5]"},{"s":0.53,"d":-0.059,"g":"(3,3.5]"},{"s":0.56,"d":-0.05,"g":"(3,3.5]"},{"s":0.59,"d":-0.052,"g":"(3,3.5]"},{"s":0.65,"d":-0.057,"g":"(3,3.5]"},{"s":0.70,"d":-0.05,"g":"(3,3.5]"},{"s":0.74,"d":-0.017,"g":"(3,3.5]"},{"s":0.75,"d":-0.07,"g":"(3,3.5]"},{"s":0.57,"d":-0.097,"g":"(3,3.5]"},{"s":0.59,"d":-0.099,"g":"(3,3.5]"},{"s":0.52,"d":-0.097,"g":"(3,3.5]"},{"s":0.51,"d":-0.118,"g":"(3,3.5]"},{"s":0.64,"d":-0.15,"g":"(3,3.5]"},{"s":0.75,"d":-0.141,"g":"(3,3.5]"},{"s":0.80,"d":-0.174,"g":"(3,3.5]"},{"s":0.82,"d":-0.166,"g":"(3,3.5]"},{"s":0.87,"d":0.047,"g":"(3,3.5]"},{"s":0.96,"d":0.05,"g":"(3,3.5]"},{"s":0.84,"d":0.007,"g":"(3,3.5]"},{"s":0.91,"d":-0.045,"g":"(3,3.5]"},{"s":1.01,"d":-0.049,"g":"(3,3.5]"},{"s":0.88,"d":-0.101,"g":"(3,3.5]"},{"s":0.86,"d":-0.05,"g":"(3,3.5]"},{"s":0.54,"d":-0.105,"g":"(3,3.5]"},{"s":0.78,"d":-0.04,"g":"(3,3.5]"},{"s":0.93,"d":0.01,"g":"(3,3.5]"},{"s":0.98,"d":-0.02,"g":"(3,3.5]"},
{"s":0.91,"d":0.085,"g":"(3,3.5]"},{"s":0.97,"d":0.052,"g":"(3,3.5]"},{"s":1.07,"d":0.085,"g":"(3,3.5]"},{"s":1.11,"d":0.064,"g":"(3,3.5]"},{"s":1.07,"d":0.057,"g":"(3,3.5]"},{"s":1.16,"d":0.105,"g":"(3,3.5]"},{"s":1.17,"d":0.12,"g":"(3,3.5]"},{"s":1.24,"d":0.035,"g":"(3,3.5]"},{"s":1.33,"d":0.05,"g":"(3,3.5]"},{"s":1.38,"d":0.077,"g":"(3,3.5]"},{"s":1.45,"d":0.09,"g":"(3,3.5]"},{"s":1.47,"d":0.068,"g":"(3,3.5]"},{"s":1.3,"d":0.087,"g":"(3,3.5]"},{"s":1.53,"d":0.056,"g":"(3,3.5]"},{"s":1.59,"d":0.103,"g":"(3,3.5]"},{"s":1.64,"d":0.073,"g":"(3,3.5]"},{"s":1.24,"d":0.003,"g":"(3,3.5]"},{"s":1.43,"d":0.003,"g":"(3,3.5]"},{"s":1.35,"d":0.021,"g":"(3,3.5]"},{"s":1.5,"d":0.021,"g":"(3,3.5]"},{"s":1.22,"d":-0.009,"g":"(3,3.5]"},{"s":1.29,"d":-0.026,"g":"(3,3.5]"},{"s":1.02,"d":-0.014,"g":"(3,3.5]"},{"s":0.95,"d":-0.026,"g":"(3,3.5]"},{"s":1.04,"d":-0.044,"g":"(3,3.5]"},{"s":0.84,"d":0.021,"g":"(3,3.5]"},{"s":0.74,"d":-0.02,"g":"(3,3.5]"},{"s":0.87,"d":-0.105,"g":"(3,3.5]"},{"s":0.84,"d":-0.07,"g":"(3,3.5]"},{"s":0.79,"d":-0.171,"g":"(3,3.5]"},{"s":0.7,"d":-0.106,"g":"(3,3.5]"},{"s":1.38,"d":0.138,"g":"(3,3.5]"},{"s":1.12,"d":0.03,"g":"(3,3.5]"},{"s":1.55,"d":0.12,"g":"(3,3.5]"},{"s":1.6,"d":0.03,"g":"(3,3.5]"},{"s":1.2,"d":0.06,"g":"(3,3.5]"},{"s":1.42,"d":0.11,"g":"(3,3.5]"},
{"s":1.7,"d":0.05,"g":"(3,3.5]"},{"s":1.72,"d":0.11,"g":"(3,3.5]"},{"s":1.75,"d":0.0,"g":"(3,3.5]"},{"s":1.78,"d":0.14,"g":"(3,3.5]"},{"s":1.8,"d":0.07,"g":"(3,3.5]"},{"s":1.83,"d":-0.03,"g":"(3,3.5]"},{"s":1.86,"d":0.12,"g":"(3,3.5]"},{"s":1.88,"d":0.03,"g":"(3,3.5]"},{"s":1.9,"d":0.17,"g":"(3,3.5]"},{"s":1.93,"d":0.09,"g":"(3,3.5]"},{"s":1.95,"d":-0.01,"g":"(3,3.5]"},{"s":1.98,"d":0.13,"g":"(3,3.5]"},{"s":2.0,"d":0.05,"g":"(3,3.5]"},{"s":2.03,"d":0.18,"g":"(3,3.5]"},{"s":2.05,"d":0.1,"g":"(3,3.5]"},{"s":2.08,"d":0.02,"g":"(3,3.5]"},{"s":2.1,"d":0.15,"g":"(3,3.5]"},{"s":2.13,"d":0.07,"g":"(3,3.5]"},{"s":2.15,"d":-0.03,"g":"(3,3.5]"},{"s":2.18,"d":0.2,"g":"(3,3.5]"},{"s":2.2,"d":0.12,"g":"(3,3.5]"},{"s":2.23,"d":0.04,"g":"(3,3.5]"},{"s":2.25,"d":0.16,"g":"(3,3.5]"},{"s":2.28,"d":0.08,"g":"(3,3.5]"},{"s":2.3,"d":0.0,"g":"(3,3.5]"},{"s":2.33,"d":0.19,"g":"(3,3.5]"},{"s":2.35,"d":0.11,"g":"(3,3.5]"},{"s":2.38,"d":0.05,"g":"(3,3.5]"},{"s":2.4,"d":0.14,"g":"(3,3.5]"},{"s":2.43,"d":-0.04,"g":"(3,3.5]"},{"s":2.45,"d":0.22,"g":"(3,3.5]"},{"s":2.48,"d":0.09,"g":"(3,3.5]"},{"s":2.5,"d":0.17,"g":"(3,3.5]"},{"s":2.53,"d":0.03,"g":"(3,3.5]"},{"s":2.55,"d":0.12,"g":"(3,3.5]"},{"s":2.58,"d":0.2,"g":"(3,3.5]"},{"s":2.6,"d":0.07,"g":"(3,3.5]"},{"s":2.63,"d":0.15,"g":"(3,3.5]"},{"s":2.65,"d":0.24,"g":"(3,3.5]"},{"s":2.68,"d":0.1,"g":"(3,3.5]"},{"s":2.7,"d":0.01,"g":"(3,3.5]"},{"s":2.73,"d":0.18,"g":"(3,3.5]"},{"s":2.75,"d":0.13,"g":"(3,3.5]"},{"s":2.78,"d":-0.176,"g":"(3,3.5]"},{"s":2.8,"d":0.06,"g":"(3,3.5]"},{"s":2.83,"d":0.22,"g":"(3,3.5]"},{"s":2.86,"d":0.15,"g":"(3,3.5]"},{"s":2.87,"d":0.296,"g":"(3,3.5]"},{"s":2.9,"d":0.09,"g":"(3,3.5]"},{"s":2.93,"d":0.19,"g":"(3,3.5]"},{"s":2.95,"d":0.04,"g":"(3,3.5]"},{"s":2.98,"d":0.25,"g":"(3,3.5]"},{"s":3.0,"d":0.12,"g":"(3,3.5]"},{"s":3.05,"d":0.17,"g":"(3,3.5]"},{"s":3.08,"d":0.07,"g":"(3,3.5]"},{"s":3.13,"d":0.265,"g":"(3,3.5]"},{"s":3.15,"d":0.21,"g":"(3,3.5]"},{"s":3.2,"d":0.1,"g":"(3,3.5]"},{"s":3.25,"d":0.16,"g":"(3,3.5]"},{"s":3.3,"d":0.23,"g":"(3,3.5]"},{"s":3.35,"d":0.05,"g":"(3,3.5]"},{"s":3.4,"d":0.13,"g":"(3,3.5]"},{"s":3.45,"d":0.326,"g":"(3,3.5]"},{"s":3.5,"d":0.19,"g":"(3,3.5]"},{"s":3.55,"d":0.09,"g":"(3,3.5]"},{"s":3.6,"d":0.26,"g":"(3,3.5]"},{"s":3.65,"d":0.15,"g":"(3,3.5]"},{"s":3.7,"d":0.22,"g":"(3,3.5]"},{"s":3.75,"d":0.06,"g":"(3,3.5]"},{"s":3.8,"d":0.18,"g":"(3,3.5]"},{"s":3.85,"d":0.12,"g":"(3,3.5]"},{"s":3.9,"d":0.27,"g":"(3,3.5]"},{"s":3.95,"d":0.2,"g":"(3,3.5]"},{"s":4.0,"d":0.1,"g":"(3,3.5]"},{"s":4.1,"d":0.16,"g":"(3,3.5]"},{"s":4.2,"d":0.24,"g":"(3,3.5]"},{"s":4.3,"d":0.273,"g":"(3,3.5]"},{"s":4.35,"d":0.13,"g":"(3,3.5]"},{"s":4.45,"d":0.19,"g":"(3,3.5]"},{"s":4.55,"d":0.08,"g":"(3,3.5]"},{"s":4.65,"d":0.22,"g":"(3,3.5]"},{"s":4.75,"d":0.15,"g":"(3,3.5]"},{"s":4.85,"d":0.26,"g":"(3,3.5]"},{"s":4.95,"d":0.11,"g":"(3,3.5]"},{"s":3.1,"d":0.0,"g":"(3,3.5]"},{"s":3.7,"d":0.02,"g":"(3,3.5]"},{"s":4.4,"d":0.03,"g":"(3,3.5]"},{"s":2.4,"d":0.26,"g":"(3,3.5]"},{"s":2.2,"d":-0.01,"g":"(3,3.5]"},{"s":1.95,"d":0.2,"g":"(3,3.5]"},{"s":3.5,"d":-0.02,"g":"(3,3.5]"},
{"s":5.1,"d":0.2,"g":"(3,3.5]"},{"s":5.2,"d":0.12,"g":"(3,3.5]"},{"s":5.3,"d":0.28,"g":"(3,3.5]"},{"s":5.4,"d":0.17,"g":"(3,3.5]"},{"s":5.5,"d":0.06,"g":"(3,3.5]"},{"s":5.6,"d":0.23,"g":"(3,3.5]"},{"s":5.7,"d":0.14,"g":"(3,3.5]"},{"s":5.85,"d":0.31,"g":"(3,3.5]"},{"s":5.95,"d":0.19,"g":"(3,3.5]"},{"s":6.05,"d":0.09,"g":"(3,3.5]"},{"s":6.2,"d":0.25,"g":"(3,3.5]"},{"s":6.3,"d":0.16,"g":"(3,3.5]"},{"s":6.45,"d":0.33,"g":"(3,3.5]"},{"s":6.55,"d":0.21,"g":"(3,3.5]"},{"s":6.7,"d":0.12,"g":"(3,3.5]"},{"s":6.8,"d":0.27,"g":"(3,3.5]"},{"s":6.95,"d":0.18,"g":"(3,3.5]"},{"s":7.1,"d":0.05,"g":"(3,3.5]"},{"s":7.25,"d":0.24,"g":"(3,3.5]"},{"s":7.4,"d":0.3,"g":"(3,3.5]"},{"s":7.55,"d":0.15,"g":"(3,3.5]"},{"s":7.7,"d":0.21,"g":"(3,3.5]"},{"s":7.85,"d":0.1,"g":"(3,3.5]"},{"s":8.0,"d":0.26,"g":"(3,3.5]"},{"s":8.2,"d":0.18,"g":"(3,3.5]"},{"s":8.4,"d":0.32,"g":"(3,3.5]"},{"s":8.6,"d":0.13,"g":"(3,3.5]"},{"s":8.8,"d":0.23,"g":"(3,3.5]"},{"s":9.0,"d":0.28,"g":"(3,3.5]"},{"s":9.3,"d":-0.026,"g":"(3,3.5]"},{"s":9.4,"d":0.17,"g":"(3,3.5]"},{"s":9.7,"d":0.24,"g":"(3,3.5]"},{"s":10.0,"d":0.3,"g":"(3,3.5]"},{"s":10.3,"d":0.2,"g":"(3,3.5]"},{"s":10.6,"d":0.14,"g":"(3,3.5]"},{"s":11.0,"d":0.26,"g":"(3,3.5]"},{"s":11.4,"d":0.19,"g":"(3,3.5]"},{"s":11.8,"d":0.09,"g":"(3,3.5]"},{"s":12.3,"d":0.23,"g":"(3,3.5]"},{"s":12.8,"d":0.17,"g":"(3,3.5]"},{"s":13.3,"d":0.277,"g":"(3,3.5]"},{"s":13.9,"d":0.221,"g":"(3,3.5]"},{"s":14.4,"d":0.27,"g":"(3,3.5]"},{"s":14.8,"d":0.167,"g":"(3,3.5]"},{"s":15.3,"d":0.35,"g":"(3,3.5]"},{"s":15.8,"d":0.277,"g":"(3,3.5]"},{"s":16.3,"d":0.139,"g":"(3,3.5]"},{"s":16.5,"d":0.206,"g":"(3,3.5]"},{"s":20.6,"d":0.099,"g":"(3,3.5]"},{"s":21.5,"d":0.385,"g":"(3,3.5]"},{"s":5.8,"d":0.04,"g":"(3,3.5]"},{"s":6.6,"d":0.07,"g":"(3,3.5]"},{"s":7.5,"d":0.35,"g":"(3,3.5]"},{"s":8.9,"d":0.06,"g":"(3,3.5]"},{"s":10.8,"d":0.32,"g":"(3,3.5]"},{"s":12.0,"d":0.12,"g":"(3,3.5]"},
{"s":1.52,"d":0.08,"g":"(3,3.5]"},{"s":1.57,"d":0.0,"g":"(3,3.5]"},{"s":1.62,"d":0.12,"g":"(3,3.5]"},{"s":1.67,"d":0.04,"g":"(3,3.5]"},{"s":1.73,"d":0.16,"g":"(3,3.5]"},{"s":1.77,"d":-0.02,"g":"(3,3.5]"},{"s":1.81,"d":0.1,"g":"(3,3.5]"},{"s":1.85,"d":0.05,"g":"(3,3.5]"},{"s":1.91,"d":0.14,"g":"(3,3.5]"},{"s":1.96,"d":0.02,"g":"(3,3.5]"},{"s":2.01,"d":0.11,"g":"(3,3.5]"},{"s":2.06,"d":0.17,"g":"(3,3.5]"},{"s":2.11,"d":0.05,"g":"(3,3.5]"},{"s":2.16,"d":0.13,"g":"(3,3.5]"},{"s":2.21,"d":0.01,"g":"(3,3.5]"},{"s":2.26,"d":0.21,"g":"(3,3.5]"},{"s":2.31,"d":0.09,"g":"(3,3.5]"},{"s":2.36,"d":0.15,"g":"(3,3.5]"},{"s":2.41,"d":0.04,"g":"(3,3.5]"},{"s":2.46,"d":0.12,"g":"(3,3.5]"},{"s":2.51,"d":0.19,"g":"(3,3.5]"},{"s":2.57,"d":0.06,"g":"(3,3.5]"},{"s":2.62,"d":0.14,"g":"(3,3.5]"},{"s":2.67,"d":0.03,"g":"(3,3.5]"},{"s":2.71,"d":0.21,"g":"(3,3.5]"},{"s":2.76,"d":0.09,"g":"(3,3.5]"},{"s":2.81,"d":0.16,"g":"(3,3.5]"},{"s":2.85,"d":0.05,"g":"(3,3.5]"},{"s":2.91,"d":0.13,"g":"(3,3.5]"},{"s":2.96,"d":0.23,"g":"(3,3.5]"},{"s":3.02,"d":0.08,"g":"(3,3.5]"},{"s":3.07,"d":0.19,"g":"(3,3.5]"},{"s":3.12,"d":0.14,"g":"(3,3.5]"},{"s":3.17,"d":0.04,"g":"(3,3.5]"},{"s":3.23,"d":0.22,"g":"(3,3.5]"},{"s":3.28,"d":0.12,"g":"(3,3.5]"},{"s":3.33,"d":0.17,"g":"(3,3.5]"},{"s":3.38,"d":0.07,"g":"(3,3.5]"},{"s":3.43,"d":0.24,"g":"(3,3.5]"},{"s":3.48,"d":0.14,"g":"(3,3.5]"},{"s":3.53,"d":0.2,"g":"(3,3.5]"},{"s":3.58,"d":0.1,"g":"(3,3.5]"},{"s":3.63,"d":0.03,"g":"(3,3.5]"},{"s":3.68,"d":0.17,"g":"(3,3.5]"},{"s":3.73,"d":0.25,"g":"(3,3.5]"},{"s":3.79,"d":0.13,"g":"(3,3.5]"},{"s":3.84,"d":0.08,"g":"(3,3.5]"},{"s":3.89,"d":0.21,"g":"(3,3.5]"},{"s":3.94,"d":0.15,"g":"(3,3.5]"},{"s":3.99,"d":0.05,"g":"(3,3.5]"},{"s":4.05,"d":0.23,"g":"(3,3.5]"},{"s":4.12,"d":0.12,"g":"(3,3.5]"},{"s":4.18,"d":0.19,"g":"(3,3.5]"},{"s":4.24,"d":0.08,"g":"(3,3.5]"},{"s":4.32,"d":0.16,"g":"(3,3.5]"},{"s":4.38,"d":0.26,"g":"(3,3.5]"},{"s":4.44,"d":0.1,"g":"(3,3.5]"},{"s":4.51,"d":0.2,"g":"(3,3.5]"},{"s":4.58,"d":0.14,"g":"(3,3.5]"},{"s":4.64,"d":0.05,"g":"(3,3.5]"},{"s":4.71,"d":0.18,"g":"(3,3.5]"},{"s":4.79,"d":0.24,"g":"(3,3.5]"},{"s":4.88,"d":0.13,"g":"(3,3.5]"},{"s":4.96,"d":0.19,"g":"(3,3.5]"},{"s":5.05,"d":0.08,"g":"(3,3.5]"},{"s":5.15,"d":0.25,"g":"(3,3.5]"},{"s":5.25,"d":0.16,"g":"(3,3.5]"},{"s":5.36,"d":0.22,"g":"(3,3.5]"},{"s":5.46,"d":0.11,"g":"(3,3.5]"},{"s":5.58,"d":0.19,"g":"(3,3.5]"},{"s":5.68,"d":0.27,"g":"(3,3.5]"},{"s":5.78,"d":0.13,"g":"(3,3.5]"},{"s":5.9,"d":0.22,"g":"(3,3.5]"},{"s":6.0,"d":0.16,"g":"(3,3.5]"},{"s":6.12,"d":0.06,"g":"(3,3.5]"},{"s":6.24,"d":0.2,"g":"(3,3.5]"},{"s":6.38,"d":0.27,"g":"(3,3.5]"},{"s":6.5,"d":0.14,"g":"(3,3.5]"},{"s":6.62,"d":0.23,"g":"(3,3.5]"},{"s":6.75,"d":0.17,"g":"(3,3.5]"},{"s":6.88,"d":0.3,"g":"(3,3.5]"},{"s":7.0,"d":0.21,"g":"(3,3.5]"},{"s":7.15,"d":0.13,"g":"(3,3.5]"},{"s":7.32,"d":0.26,"g":"(3,3.5]"},{"s":7.45,"d":0.19,"g":"(3,3.5]"},{"s":7.62,"d":0.08,"g":"(3,3.5]"},{"s":7.8,"d":0.23,"g":"(3,3.5]"},{"s":7.95,"d":0.16,"g":"(3,3.5]"},{"s":8.12,"d":0.29,"g":"(3,3.5]"},{"s":8.3,"d":0.2,"g":"(3,3.5]"},{"s":8.5,"d":0.11,"g":"(3,3.5]"},{"s":8.7,"d":0.25,"g":"(3,3.5]"},{"s":8.95,"d":0.19,"g":"(3,3.5]"},{"s":9.15,"d":0.33,"g":"(3,3.5]"},{"s":9.4,"d":0.22,"g":"(3,3.5]"},{"s":9.65,"d":0.1,"g":"(3,3.5]"},{"s":9.9,"d":0.26,"g":"(3,3.5]"},{"s":10.2,"d":0.29,"g":"(3,3.5]"},{"s":10.5,"d":0.23,"g":"(3,3.5]"},{"s":10.9,"d":0.16,"g":"(3,3.5]"},{"s":11.3,"d":0.3,"g":"(3,3.5]"},{"s":11.7,"d":0.21,"g":"(3,3.5]"},{"s":12.2,"d":0.28,"g":"(3,3.5]"},{"s":13.0,"d":0.2,"g":"(3,3.5]"},{"s":13.8,"d":0.31,"g":"(3,3.5]"},{"s":14.2,"d":0.12,"g":"(3,3.5]"},{"s":15.0,"d":0.24,"g":"(3,3.5]"},{"s":16.0,"d":0.3,"g":"(3,3.5]"},{"s":17.0,"d":0.18,"g":"(3,3.5]"},{"s":1.05,"d":0.02,"g":"(3,3.5]"},{"s":1.15,"d":0.07,"g":"(3,3.5]"},{"s":1.26,"d":0.1,"g":"(3,3.5]"},{"s":1.36,"d":0.04,"g":"(3,3.5]"},{"s":1.46,"d":0.13,"g":"(3,3.5]"},{"s":0.95,"d":0.03,"g":"(3,3.5]"},{"s":0.8,"d":-0.01,"g":"(3,3.5]"},{"s":0.7,"d":0.0,"g":"(3,3.5]"},{"s":0.62,"d":-0.03,"g":"(3,3.5]"},{"s":1.9,"d":-0.05,"g":"(3,3.5]"},{"s":2.5,"d":-0.06,"g":"(3,3.5]"},{"s":3.2,"d":-0.03,"g":"(3,3.5]"},{"s":4.8,"d":-0.04,"g":"(3,3.5]"},
{"s":0.67,"d":0.003,"g":"(3.5,6]"},{"s":0.78,"d":0.016,"g":"(3.5,6]"},{"s":0.84,"d":-0.021,"g":"(3.5,6]"},{"s":1.0,"d":-0.037,"g":"(3.5,6]"},{"s":0.9,"d":0.024,"g":"(3.5,6]"},{"s":0.77,"d":0.06,"g":"(3.5,6]"},{"s":0.88,"d":0.066,"g":"(3.5,6]"},{"s":1.04,"d":0.045,"g":"(3.5,6]"},{"s":1.19,"d":0.047,"g":"(3.5,6]"},{"s":1.47,"d":0.192,"g":"(3.5,6]"},{"s":1.26,"d":0.152,"g":"(3.5,6]"},{"s":1.27,"d":0.131,"g":"(3.5,6]"},{"s":1.35,"d":0.141,"g":"(3.5,6]"},{"s":1.41,"d":0.148,"g":"(3.5,6]"},{"s":1.72,"d":0.214,"g":"(3.5,6]"},{"s":1.86,"d":0.218,"g":"(3.5,6]"},{"s":1.63,"d":0.153,"g":"(3.5,6]"},{"s":1.68,"d":0.16,"g":"(3.5,6]"},{"s":1.87,"d":0.19,"g":"(3.5,6]"},{"s":1.96,"d":0.19,"g":"(3.5,6]"},{"s":2.1,"d":0.205,"g":"(3.5,6]"},{"s":2.15,"d":0.21,"g":"(3.5,6]"},{"s":1.97,"d":0.169,"g":"(3.5,6]"},{"s":1.99,"d":0.138,"g":"(3.5,6]"},{"s":1.66,"d":0.131,"g":"(3.5,6]"},{"s":1.66,"d":0.113,"g":"(3.5,6]"},{"s":1.66,"d":0.092,"g":"(3.5,6]"},{"s":1.7,"d":0.061,"g":"(3.5,6]"},{"s":1.96,"d":0.357,"g":"(3.5,6]"},{"s":1.55,"d":0.1,"g":"(3.5,6]"},{"s":1.8,"d":0.12,"g":"(3.5,6]"},{"s":1.45,"d":0.06,"g":"(3.5,6]"},{"s":1.3,"d":0.08,"g":"(3.5,6]"},{"s":1.1,"d":0.03,"g":"(3.5,6]"},{"s":1.2,"d":0.1,"g":"(3.5,6]"},{"s":1.9,"d":0.085,"g":"(3.5,6]"},{"s":1.39,"d":0.108,"g":"(3.5,6]"},{"s":1.5,"d":0.111,"g":"(3.5,6]"},{"s":1.67,"d":0.108,"g":"(3.5,6]"},{"s":1.21,"d":0.061,"g":"(3.5,6]"},{"s":1.23,"d":0.042,"g":"(3.5,6]"},{"s":1.24,"d":0.085,"g":"(3.5,6]"},{"s":1.28,"d":0.068,"g":"(3.5,6]"},{"s":1.64,"d":0.155,"g":"(3.5,6]"},{"s":1.73,"d":0.129,"g":"(3.5,6]"},{"s":1.86,"d":0.139,"g":"(3.5,6]"},{"s":2.0,"d":0.138,"g":"(3.5,6]"},{"s":2.16,"d":0.077,"g":"(3.5,6]"},
{"s":2.01,"d":0.204,"g":"(3.5,6]"},{"s":2.13,"d":0.207,"g":"(3.5,6]"},{"s":2.2,"d":0.204,"g":"(3.5,6]"},{"s":2.3,"d":0.174,"g":"(3.5,6]"},{"s":2.42,"d":0.267,"g":"(3.5,6]"},{"s":2.47,"d":0.212,"g":"(3.5,6]"},{"s":2.55,"d":0.186,"g":"(3.5,6]"},{"s":2.55,"d":0.233,"g":"(3.5,6]"},{"s":2.7,"d":0.207,"g":"(3.5,6]"},{"s":2.72,"d":0.267,"g":"(3.5,6]"},{"s":2.78,"d":0.274,"g":"(3.5,6]"},{"s":2.84,"d":0.218,"g":"(3.5,6]"},{"s":2.9,"d":0.2,"g":"(3.5,6]"},{"s":2.98,"d":0.221,"g":"(3.5,6]"},{"s":3.0,"d":0.172,"g":"(3.5,6]"},{"s":3.0,"d":0.125,"g":"(3.5,6]"},{"s":3.15,"d":0.284,"g":"(3.5,6]"},{"s":3.16,"d":0.195,"g":"(3.5,6]"},{"s":3.3,"d":0.282,"g":"(3.5,6]"},{"s":3.34,"d":0.212,"g":"(3.5,6]"},{"s":3.45,"d":0.235,"g":"(3.5,6]"},{"s":3.5,"d":0.284,"g":"(3.5,6]"},{"s":3.55,"d":0.279,"g":"(3.5,6]"},{"s":3.6,"d":0.25,"g":"(3.5,6]"},{"s":3.67,"d":0.221,"g":"(3.5,6]"},{"s":3.74,"d":0.207,"g":"(3.5,6]"},{"s":3.77,"d":0.313,"g":"(3.5,6]"},{"s":3.81,"d":0.314,"g":"(3.5,6]"},{"s":3.85,"d":0.253,"g":"(3.5,6]"},{"s":3.9,"d":0.36,"g":"(3.5,6]"},{"s":3.92,"d":0.362,"g":"(3.5,6]"},{"s":3.98,"d":0.233,"g":"(3.5,6]"},{"s":4.05,"d":0.415,"g":"(3.5,6]"},{"s":4.05,"d":0.27,"g":"(3.5,6]"},{"s":4.14,"d":0.312,"g":"(3.5,6]"},{"s":4.2,"d":0.242,"g":"(3.5,6]"},{"s":4.36,"d":0.178,"g":"(3.5,6]"},{"s":4.4,"d":0.333,"g":"(3.5,6]"},{"s":4.5,"d":-0.028,"g":"(3.5,6]"},{"s":4.6,"d":0.317,"g":"(3.5,6]"},{"s":4.63,"d":0.321,"g":"(3.5,6]"},{"s":4.67,"d":0.242,"g":"(3.5,6]"},{"s":4.7,"d":0.352,"g":"(3.5,6]"},{"s":4.86,"d":0.221,"g":"(3.5,6]"},{"s":4.97,"d":0.381,"g":"(3.5,6]"},{"s":5.0,"d":0.216,"g":"(3.5,6]"},{"s":5.13,"d":0.345,"g":"(3.5,6]"},{"s":5.13,"d":0.312,"g":"(3.5,6]"},{"s":5.13,"d":0.233,"g":"(3.5,6]"},{"s":5.25,"d":0.381,"g":"(3.5,6]"},{"s":5.47,"d":0.33,"g":"(3.5,6]"},{"s":5.57,"d":0.26,"g":"(3.5,6]"},{"s":5.68,"d":0.314,"g":"(3.5,6]"},{"s":5.77,"d":0.364,"g":"(3.5,6]"},{"s":5.83,"d":0.392,"g":"(3.5,6]"},{"s":5.87,"d":0.26,"g":"(3.5,6]"},{"s":6.1,"d":0.387,"g":"(3.5,6]"},{"s":6.16,"d":0.413,"g":"(3.5,6]"},{"s":6.25,"d":0.411,"g":"(3.5,6]"},{"s":6.3,"d":0.192,"g":"(3.5,6]"},{"s":6.35,"d":0.213,"g":"(3.5,6]"},{"s":6.5,"d":0.296,"g":"(3.5,6]"},{"s":6.54,"d":0.359,"g":"(3.5,6]"},{"s":6.6,"d":0.427,"g":"(3.5,6]"},{"s":6.76,"d":0.369,"g":"(3.5,6]"},{"s":6.78,"d":0.32,"g":"(3.5,6]"},{"s":6.9,"d":0.357,"g":"(3.5,6]"},{"s":6.9,"d":0.34,"g":"(3.5,6]"},{"s":6.9,"d":0.296,"g":"(3.5,6]"},{"s":7.1,"d":0.437,"g":"(3.5,6]"},{"s":7.45,"d":0.39,"g":"(3.5,6]"},{"s":7.55,"d":0.314,"g":"(3.5,6]"},{"s":7.65,"d":0.4,"g":"(3.5,6]"},{"s":7.65,"d":0.375,"g":"(3.5,6]"},{"s":7.8,"d":0.308,"g":"(3.5,6]"},{"s":7.9,"d":0.427,"g":"(3.5,6]"},{"s":7.9,"d":0.364,"g":"(3.5,6]"},{"s":7.95,"d":0.39,"g":"(3.5,6]"},{"s":8.1,"d":0.27,"g":"(3.5,6]"},{"s":8.1,"d":0.253,"g":"(3.5,6]"},{"s":8.2,"d":0.387,"g":"(3.5,6]"},{"s":8.2,"d":0.317,"g":"(3.5,6]"},{"s":8.3,"d":0.286,"g":"(3.5,6]"},{"s":8.5,"d":0.348,"g":"(3.5,6]"},{"s":8.5,"d":0.207,"g":"(3.5,6]"},{"s":8.6,"d":0.427,"g":"(3.5,6]"},{"s":9.0,"d":0.16,"g":"(3.5,6]"},{"s":9.1,"d":0.364,"g":"(3.5,6]"},{"s":9.2,"d":0.434,"g":"(3.5,6]"},{"s":9.2,"d":0.322,"g":"(3.5,6]"},{"s":9.2,"d":0.301,"g":"(3.5,6]"},{"s":9.3,"d":0.364,"g":"(3.5,6]"},{"s":9.3,"d":0.21,"g":"(3.5,6]"},{"s":9.7,"d":0.289,"g":"(3.5,6]"},{"s":9.75,"d":0.451,"g":"(3.5,6]"},{"s":9.8,"d":0.378,"g":"(3.5,6]"},{"s":9.9,"d":0.395,"g":"(3.5,6]"},{"s":10.1,"d":0.211,"g":"(3.5,6]"},{"s":10.2,"d":0.213,"g":"(3.5,6]"},{"s":10.3,"d":0.46,"g":"(3.5,6]"},{"s":10.3,"d":0.293,"g":"(3.5,6]"},{"s":10.3,"d":0.258,"g":"(3.5,6]"},{"s":10.5,"d":0.369,"g":"(3.5,6]"},{"s":10.8,"d":0.458,"g":"(3.5,6]"},{"s":11.0,"d":0.33,"g":"(3.5,6]"},{"s":11.2,"d":0.34,"g":"(3.5,6]"},{"s":11.4,"d":0.43,"g":"(3.5,6]"},{"s":11.5,"d":0.364,"g":"(3.5,6]"},{"s":11.5,"d":0.289,"g":"(3.5,6]"},{"s":11.7,"d":0.314,"g":"(3.5,6]"},{"s":11.8,"d":0.413,"g":"(3.5,6]"},{"s":11.8,"d":0.364,"g":"(3.5,6]"},{"s":11.9,"d":0.434,"g":"(3.5,6]"},{"s":12.0,"d":0.192,"g":"(3.5,6]"},{"s":12.3,"d":0.317,"g":"(3.5,6]"},{"s":12.4,"d":0.277,"g":"(3.5,6]"},{"s":12.9,"d":0.294,"g":"(3.5,6]"},{"s":13.3,"d":0.294,"g":"(3.5,6]"},{"s":13.7,"d":0.333,"g":"(3.5,6]"},{"s":13.9,"d":0.395,"g":"(3.5,6]"},{"s":14.0,"d":0.436,"g":"(3.5,6]"},{"s":14.1,"d":0.399,"g":"(3.5,6]"},{"s":15.5,"d":0.388,"g":"(3.5,6]"},{"s":15.8,"d":0.467,"g":"(3.5,6]"},{"s":16.7,"d":0.314,"g":"(3.5,6]"},
{"s":2.42,"d":0.169,"g":"(3.5,6]"},{"s":2.7,"d":0.16,"g":"(3.5,6]"},{"s":2.82,"d":0.16,"g":"(3.5,6]"},{"s":2.9,"d":0.139,"g":"(3.5,6]"},{"s":3.45,"d":0.113,"g":"(3.5,6]"},{"s":2.51,"d":0.122,"g":"(3.5,6]"},{"s":2.4,"d":0.152,"g":"(3.5,6]"},{"s":2.74,"d":0.192,"g":"(3.5,6]"},
{"s":2.05,"d":0.15,"g":"(3.5,6]"},{"s":2.18,"d":0.24,"g":"(3.5,6]"},{"s":2.27,"d":0.19,"g":"(3.5,6]"},{"s":2.36,"d":0.27,"g":"(3.5,6]"},{"s":2.44,"d":0.13,"g":"(3.5,6]"},{"s":2.53,"d":0.21,"g":"(3.5,6]"},{"s":2.62,"d":0.29,"g":"(3.5,6]"},{"s":2.68,"d":0.18,"g":"(3.5,6]"},{"s":2.76,"d":0.25,"g":"(3.5,6]"},{"s":2.85,"d":0.14,"g":"(3.5,6]"},{"s":2.93,"d":0.3,"g":"(3.5,6]"},{"s":3.03,"d":0.22,"g":"(3.5,6]"},{"s":3.09,"d":0.17,"g":"(3.5,6]"},{"s":3.19,"d":0.27,"g":"(3.5,6]"},{"s":3.26,"d":0.2,"g":"(3.5,6]"},{"s":3.36,"d":0.32,"g":"(3.5,6]"},{"s":3.42,"d":0.25,"g":"(3.5,6]"},{"s":3.52,"d":0.17,"g":"(3.5,6]"},{"s":3.62,"d":0.3,"g":"(3.5,6]"},{"s":3.7,"d":0.24,"g":"(3.5,6]"},{"s":3.79,"d":0.19,"g":"(3.5,6]"},{"s":3.87,"d":0.34,"g":"(3.5,6]"},{"s":3.96,"d":0.28,"g":"(3.5,6]"},{"s":4.08,"d":0.21,"g":"(3.5,6]"},{"s":4.16,"d":0.36,"g":"(3.5,6]"},{"s":4.25,"d":0.29,"g":"(3.5,6]"},{"s":4.33,"d":0.23,"g":"(3.5,6]"},{"s":4.43,"d":0.38,"g":"(3.5,6]"},{"s":4.54,"d":0.27,"g":"(3.5,6]"},{"s":4.61,"d":0.2,"g":"(3.5,6]"},{"s":4.72,"d":0.33,"g":"(3.5,6]"},{"s":4.83,"d":0.4,"g":"(3.5,6]"},{"s":4.92,"d":0.29,"g":"(3.5,6]"},{"s":5.04,"d":0.35,"g":"(3.5,6]"},{"s":5.18,"d":0.24,"g":"(3.5,6]"},{"s":5.3,"d":0.42,"g":"(3.5,6]"},{"s":5.42,"d":0.3,"g":"(3.5,6]"},{"s":5.52,"d":0.37,"g":"(3.5,6]"},{"s":5.64,"d":0.22,"g":"(3.5,6]"},{"s":5.74,"d":0.4,"g":"(3.5,6]"},{"s":5.92,"d":0.34,"g":"(3.5,6]"},{"s":6.05,"d":0.28,"g":"(3.5,6]"},{"s":6.2,"d":0.36,"g":"(3.5,6]"},{"s":6.4,"d":0.24,"g":"(3.5,6]"},{"s":6.6,"d":0.39,"g":"(3.5,6]"},{"s":6.7,"d":0.31,"g":"(3.5,6]"},{"s":6.98,"d":0.41,"g":"(3.5,6]"},{"s":7.2,"d":0.35,"g":"(3.5,6]"},{"s":7.35,"d":0.26,"g":"(3.5,6]"},{"s":7.7,"d":0.42,"g":"(3.5,6]"},{"s":7.85,"d":0.33,"g":"(3.5,6]"},{"s":8.05,"d":0.4,"g":"(3.5,6]"},{"s":8.4,"d":0.3,"g":"(3.5,6]"},{"s":8.8,"d":0.37,"g":"(3.5,6]"},{"s":9.05,"d":0.42,"g":"(3.5,6]"},{"s":9.5,"d":0.33,"g":"(3.5,6]"},{"s":10.0,"d":0.4,"g":"(3.5,6]"},{"s":10.6,"d":0.31,"g":"(3.5,6]"},{"s":11.1,"d":0.44,"g":"(3.5,6]"},{"s":12.1,"d":0.38,"g":"(3.5,6]"},{"s":12.8,"d":0.35,"g":"(3.5,6]"},{"s":13.5,"d":0.43,"g":"(3.5,6]"},{"s":14.6,"d":0.37,"g":"(3.5,6]"},{"s":1.75,"d":0.17,"g":"(3.5,6]"},{"s":1.82,"d":0.25,"g":"(3.5,6]"},{"s":1.58,"d":0.12,"g":"(3.5,6]"},{"s":1.92,"d":0.23,"g":"(3.5,6]"},{"s":2.23,"d":0.28,"g":"(3.5,6]"},{"s":2.58,"d":0.27,"g":"(3.5,6]"},{"s":3.12,"d":0.3,"g":"(3.5,6]"},{"s":3.66,"d":0.34,"g":"(3.5,6]"},{"s":4.1,"d":0.31,"g":"(3.5,6]"},{"s":4.9,"d":0.25,"g":"(3.5,6]"},{"s":5.8,"d":0.3,"g":"(3.5,6]"},{"s":6.8,"d":0.26,"g":"(3.5,6]"}
],
"fits":[
{"s":0.427,"d":-0.030,"f":"c"},{"s":25.1,"d":0.470,"f":"c"},
{"s":0.427,"d":-0.071,"f":"b"},{"s":25.1,"d":0.300,"f":"b"},
{"s":0.427,"d":-0.131,"f":"a"},{"s":25.1,"d":0.132,"f":"a"}
],
"gbMaj":[{"d":-0.25},{"d":0},{"d":0.25}],
"gbMin":[{"d":-0.125},{"d":0.125},{"d":0.375}],
"gbTop":[{"d":0.502}],
"ltL":[{"s":1},{"s":10}],
"ltM":[{"s":0.5},{"s":5}],
"ltS":[{"s":0.6},{"s":0.7},{"s":0.8},{"s":0.9},{"s":2},{"s":3},{"s":4},{"s":6},{"s":7},{"s":8},{"s":9},{"s":20}],
"zero":[{"d":0}]
},
"concat":[
{
 "title":{"text":"a)","anchor":"start","frame":"group","dx":-73,"offset":-17.5,"baseline":"alphabetic","fontSize":21},
 "width":813,"height":465,
 "layer":[
  {"data":{"name":"a"},
   "mark":{"type":"circle","size":62,"opacity":1,"stroke":"#000000","strokeWidth":0.5,"strokeOpacity":0.3},
   "encoding":{
    "x":{"field":"mw","type":"quantitative","scale":{"domain":[2.225,7.306],"nice":false,"zero":false},
      "axis":{"title":"Moment magnitude Mw","values":[2.5,3,3.5,4,4.5,5,5.5,6,6.5,7],
        "labelExpr":"datum.value % 1 === 0 ? format(datum.value,'d') : ''",
        "gridWidth":{"condition":{"test":"datum.value % 1 === 0","value":1.3},"value":0.7},
        "tickOpacity":{"condition":{"test":"datum.value % 1 === 0","value":1},"value":0},
        "labelFontSize":26,"titleFontSize":27,"labelPadding":0,"titlePadding":3}},
    "y":{"field":"ml","type":"quantitative","scale":{"domain":[2.095,6.86],"nice":false,"zero":false},
      "axis":{"title":"Local magnitude Ml","values":[2.5,3,3.5,4,4.5,5,5.5,6,6.5],
        "labelExpr":"datum.value % 1 === 0 ? format(datum.value,'d') : ''",
        "gridWidth":{"condition":{"test":"datum.value % 1 === 0","value":1.3},"value":0.7},
        "tickOpacity":{"condition":{"test":"datum.value % 1 === 0","value":1},"value":0},
        "labelFontSize":26,"titleFontSize":27,"labelPadding":2,"titlePadding":3}},
    "color":{"field":"c","type":"quantitative","scale":{"scheme":"viridis","domain":[-0.35,1.36]},
      "legend":{"title":"Log(Δσ)[MPa]","orient":"none","legendX":681,"legendY":228,"direction":"vertical",
        "fillColor":"white","padding":8,"gradientLength":114,"gradientThickness":23,"gradientStrokeWidth":0,
        "values":[0,0.5,1],"format":".1f","titleFontSize":15.5,"titleFontWeight":"normal","titleColor":"#000000",
        "labelFontSize":16,"labelColor":"#1A1A1A","titlePadding":8,"labelOffset":8}}
   }},
  {"data":{"name":"lineA"},
   "mark":{"type":"line","color":"#000000","strokeWidth":4.2},
   "encoding":{
    "x":{"field":"mw","type":"quantitative","scale":{"domain":[2.225,7.306],"nice":false,"zero":false}},
    "y":{"field":"ml","type":"quantitative","scale":{"domain":[2.095,6.86],"nice":false,"zero":false}}
   }}
 ]
},
{
 "title":{"text":"b)","anchor":"start","frame":"group","dx":-73,"offset":-30,"baseline":"alphabetic","fontSize":21},
 "width":813,"height":459,
 "view":{"stroke":null},
 "layer":[
  {"data":{"name":"gbMaj"},
   "mark":{"type":"rule","color":"#EBEBEB","strokeWidth":1.3},
   "encoding":{
    "y":{"field":"d","type":"quantitative","scale":{"domain":[-0.297,0.502],"nice":false,"zero":false}},
    "x":{"datum":0.427,"scale":{"type":"log","domain":[0.427,25.1],"nice":false,"range":[47,813]}},
    "x2":{"datum":25.1}
   }},
  {"data":{"name":"gbMin"},
   "mark":{"type":"rule","color":"#EBEBEB","strokeWidth":0.7},
   "encoding":{
    "y":{"field":"d","type":"quantitative","scale":{"domain":[-0.297,0.502],"nice":false,"zero":false}},
    "x":{"datum":0.427,"scale":{"type":"log","domain":[0.427,25.1],"nice":false,"range":[47,813]}},
    "x2":{"datum":25.1}
   }},
  {"data":{"name":"gbTop"},
   "mark":{"type":"rule","color":"#707070","strokeWidth":1},
   "encoding":{
    "y":{"field":"d","type":"quantitative","scale":{"domain":[-0.297,0.502],"nice":false,"zero":false}},
    "x":{"datum":0.427,"scale":{"type":"log","domain":[0.427,25.1],"nice":false,"range":[47,813]}},
    "x2":{"datum":25.1}
   }},
  {"data":{"name":"zero"},
   "mark":{"type":"rule","color":"#333333","strokeWidth":1.1},
   "encoding":{
    "y":{"field":"d","type":"quantitative","scale":{"domain":[-0.297,0.502],"nice":false,"zero":false}},
    "x":{"datum":0.427,"scale":{"type":"log","domain":[0.427,25.1],"nice":false,"range":[47,813]}},
    "x2":{"datum":25.1}
   }},
  {"data":{"name":"b"},
   "mark":{"type":"circle","size":56,"opacity":1,"stroke":"#000000","strokeWidth":0.7},
   "encoding":{
    "x":{"field":"s","type":"quantitative","scale":{"type":"log","domain":[0.427,25.1],"nice":false,"range":[47,813]},
      "axis":{"title":"Δσ [MPa]","values":[0.578,1,1.73,3,5.48,10,17.3],
        "labelExpr":"(datum.value == 1 || datum.value == 3 || datum.value == 10) ? format(datum.value,'d') : ''",
        "gridWidth":{"condition":{"test":"datum.value == 1 || datum.value == 3 || datum.value == 10","value":1.3},"value":0.7},
        "tickOpacity":{"condition":{"test":"datum.value == 1 || datum.value == 3 || datum.value == 10","value":1},"value":0},
        "domain":true,"domainColor":"#707070","domainWidth":1,
        "labelFontSize":25,"titleFontSize":27,"labelPadding":3,"titlePadding":6}},
    "y":{"field":"d","type":"quantitative","scale":{"domain":[-0.297,0.502],"nice":false,"zero":false},
      "axis":{"title":"Difference Ml-Mw","values":[-0.25,0,0.25,0.5],"offset":-47,"grid":false,
        "labelExpr":"replace(format(datum.value,'.2f'),'\u2212','-')",
        "domain":true,"domainColor":"#707070","domainWidth":1,
        "labelFontSize":25,"titleFontSize":27,"labelPadding":4,"titlePadding":7}},
    "color":{"field":"g","type":"nominal","scale":{"domain":["(2,3]","(3,3.5]","(3.5,6]"],"range":["#440154","#21908C","#FDE725"]},
      "legend":{"title":"Mw","orient":"none","legendX":690,"legendY":314,"fillColor":"white","padding":7,
        "titleFontSize":15,"titleFontWeight":"normal","titleColor":"#000000","titlePadding":6,
        "labelFontSize":20,"labelColor":"#000000","symbolType":"circle","symbolSize":45,
        "symbolStrokeColor":"#000000","symbolStrokeWidth":0.6,"symbolOpacity":1,"symbolOffset":5,"labelOffset":14,"rowPadding":3}}
   }},
  {"data":{"name":"fits"},
   "mark":{"type":"line","color":"#FF0000","strokeWidth":2.6},
   "encoding":{
    "x":{"field":"s","type":"quantitative","scale":{"type":"log","domain":[0.427,25.1],"nice":false,"range":[47,813]}},
    "y":{"field":"d","type":"quantitative","scale":{"domain":[-0.297,0.502],"nice":false,"zero":false}},
    "detail":{"field":"f","type":"nominal"}
   }},
  {"data":{"name":"ltL"},
   "mark":{"type":"rule","color":"#333333","strokeWidth":1},
   "encoding":{
    "x":{"field":"s","type":"quantitative","scale":{"type":"log","domain":[0.427,25.1],"nice":false,"range":[47,813]}},
    "y":{"datum":-0.297,"scale":{"domain":[-0.297,0.502],"nice":false,"zero":false}},
    "y2":{"datum":-0.2768}
   }},
  {"data":{"name":"ltM"},
   "mark":{"type":"rule","color":"#333333","strokeWidth":1},
   "encoding":{
    "x":{"field":"s","type":"quantitative","scale":{"type":"log","domain":[0.427,25.1],"nice":false,"range":[47,813]}},
    "y":{"datum":-0.297,"scale":{"domain":[-0.297,0.502],"nice":false,"zero":false}},
    "y2":{"datum":-0.2848}
   }},
  {"data":{"name":"ltS"},
   "mark":{"type":"rule","color":"#333333","strokeWidth":1},
   "encoding":{
    "x":{"field":"s","type":"quantitative","scale":{"type":"log","domain":[0.427,25.1],"nice":false,"range":[47,813]}},
    "y":{"datum":-0.297,"scale":{"domain":[-0.297,0.502],"nice":false,"zero":false}},
    "y2":{"datum":-0.2900}
   }}
 ]
}
]
}
